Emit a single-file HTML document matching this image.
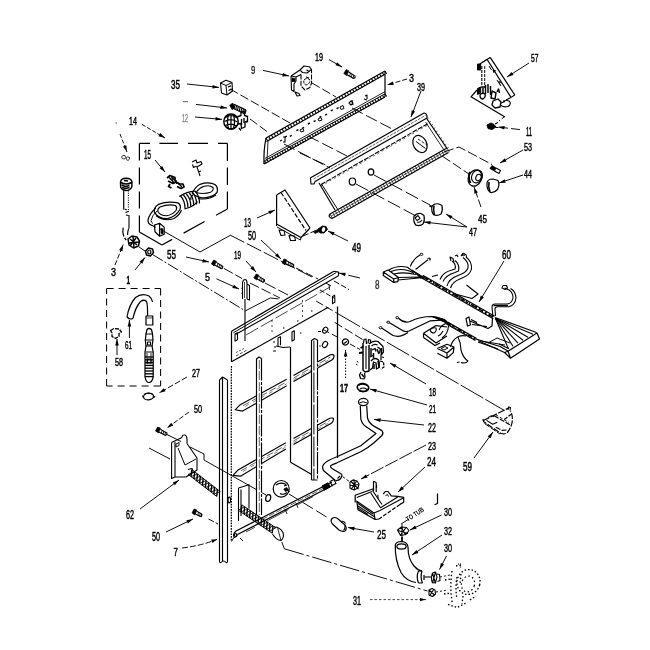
<!DOCTYPE html>
<html><head><meta charset="utf-8"><title>Parts diagram</title>
<style>html,body{margin:0;padding:0;background:#fff;width:650px;height:650px;overflow:hidden;font-family:"Liberation Sans",sans-serif}</style></head>
<body>
<svg width="650" height="650" viewBox="0 0 650 650" style="display:block;filter:grayscale(1)" font-family="Liberation Sans, sans-serif" fill="#000" stroke-linecap="butt" stroke-linejoin="round">
<text x="171" y="89" stroke="#000" stroke-width="0.45" font-size="12.0" textLength="9" lengthAdjust="spacingAndGlyphs" font-weight="normal">35</text>
<text x="251" y="73.5" stroke="#000" stroke-width="0.45" font-size="10.7" textLength="4.300000000000011" lengthAdjust="spacingAndGlyphs" font-weight="normal" opacity="0.85">9</text>
<text x="315" y="60.5" stroke="#000" stroke-width="0.45" font-size="11.3" textLength="8" lengthAdjust="spacingAndGlyphs" font-weight="normal">19</text>
<text x="409" y="81.5" stroke="#000" stroke-width="0.45" font-size="11.3" textLength="5" lengthAdjust="spacingAndGlyphs" font-weight="normal">3</text>
<text x="417" y="90.5" stroke="#000" stroke-width="0.45" font-size="11.3" textLength="8" lengthAdjust="spacingAndGlyphs" font-weight="normal">39</text>
<text x="531" y="61.5" stroke="#000" stroke-width="0.45" font-size="11.3" textLength="7.5" lengthAdjust="spacingAndGlyphs" font-weight="normal">57</text>
<text x="526" y="136" stroke="#000" stroke-width="0.45" font-size="12.0" textLength="6" lengthAdjust="spacingAndGlyphs" font-weight="normal">11</text>
<text x="524" y="150.5" stroke="#000" stroke-width="0.45" font-size="11.3" textLength="8" lengthAdjust="spacingAndGlyphs" font-weight="normal">53</text>
<text x="524" y="177.5" stroke="#000" stroke-width="0.45" font-size="11.3" textLength="8" lengthAdjust="spacingAndGlyphs" font-weight="normal">44</text>
<text x="478" y="222.5" stroke="#000" stroke-width="0.45" font-size="11.3" textLength="9" lengthAdjust="spacingAndGlyphs" font-weight="normal">45</text>
<text x="469" y="235.5" stroke="#000" stroke-width="0.45" font-size="11.3" textLength="8" lengthAdjust="spacingAndGlyphs" font-weight="normal">47</text>
<text x="352" y="252" stroke="#000" stroke-width="0.45" font-size="12.0" textLength="9" lengthAdjust="spacingAndGlyphs" font-weight="normal">49</text>
<text x="502" y="259" stroke="#000" stroke-width="0.45" font-size="12.0" textLength="9" lengthAdjust="spacingAndGlyphs" font-weight="normal">60</text>
<text x="129" y="124.5" stroke="#000" stroke-width="0.45" font-size="11.3" textLength="8" lengthAdjust="spacingAndGlyphs" font-weight="normal">14</text>
<text x="144" y="159" stroke="#000" stroke-width="0.45" font-size="12.0" textLength="7" lengthAdjust="spacingAndGlyphs" font-weight="normal">15</text>
<text x="182" y="121.5" stroke="#000" stroke-width="0.45" font-size="10.0" textLength="6" lengthAdjust="spacingAndGlyphs" font-weight="normal" opacity="0.45">12</text>
<text x="167" y="259" stroke="#000" stroke-width="0.45" font-size="12.0" textLength="9" lengthAdjust="spacingAndGlyphs" font-weight="normal">55</text>
<text x="244" y="227" stroke="#000" stroke-width="0.45" font-size="12.0" textLength="7" lengthAdjust="spacingAndGlyphs" font-weight="normal">13</text>
<text x="248" y="240" stroke="#000" stroke-width="0.45" font-size="12.0" textLength="8" lengthAdjust="spacingAndGlyphs" font-weight="normal">50</text>
<text x="234" y="258.5" stroke="#000" stroke-width="0.45" font-size="11.3" textLength="7" lengthAdjust="spacingAndGlyphs" font-weight="normal">19</text>
<text x="205" y="280.5" stroke="#000" stroke-width="0.45" font-size="11.3" textLength="5" lengthAdjust="spacingAndGlyphs" font-weight="normal">5</text>
<text x="126.5" y="283.5" stroke="#000" stroke-width="0.45" font-size="11.3" textLength="3.5" lengthAdjust="spacingAndGlyphs" font-weight="bold">1</text>
<text x="111" y="275.5" stroke="#000" stroke-width="0.45" font-size="11.3" textLength="5" lengthAdjust="spacingAndGlyphs" font-weight="normal">3</text>
<text x="125" y="348.8" stroke="#000" stroke-width="0.45" font-size="11.3" textLength="7" lengthAdjust="spacingAndGlyphs" font-weight="normal">61</text>
<text x="115" y="365.5" stroke="#000" stroke-width="0.45" font-size="11.3" textLength="8" lengthAdjust="spacingAndGlyphs" font-weight="normal">58</text>
<text x="192" y="376.5" stroke="#000" stroke-width="0.45" font-size="11.3" textLength="8" lengthAdjust="spacingAndGlyphs" font-weight="normal">27</text>
<text x="194" y="412.5" stroke="#000" stroke-width="0.45" font-size="11.3" textLength="8" lengthAdjust="spacingAndGlyphs" font-weight="normal">50</text>
<text x="126" y="519" stroke="#000" stroke-width="0.45" font-size="12.0" textLength="8" lengthAdjust="spacingAndGlyphs" font-weight="normal">62</text>
<text x="152" y="541" stroke="#000" stroke-width="0.45" font-size="12.0" textLength="8" lengthAdjust="spacingAndGlyphs" font-weight="normal">50</text>
<text x="173.6" y="555.7" stroke="#000" stroke-width="0.45" font-size="11.3" textLength="4.400000000000006" lengthAdjust="spacingAndGlyphs" font-weight="normal">7</text>
<text x="375" y="288.5" stroke="#000" stroke-width="0.45" font-size="12.0" textLength="4.5" lengthAdjust="spacingAndGlyphs" font-weight="normal" opacity="0.8">8</text>
<text x="340" y="391.5" stroke="#000" stroke-width="0.45" font-size="10.0" textLength="8" lengthAdjust="spacingAndGlyphs" font-weight="bold">17</text>
<text x="429" y="395.5" stroke="#000" stroke-width="0.45" font-size="11.3" textLength="7" lengthAdjust="spacingAndGlyphs" font-weight="normal">18</text>
<text x="429" y="412.5" stroke="#000" stroke-width="0.45" font-size="11.3" textLength="7" lengthAdjust="spacingAndGlyphs" font-weight="normal">21</text>
<text x="428" y="432" stroke="#000" stroke-width="0.45" font-size="12.0" textLength="8" lengthAdjust="spacingAndGlyphs" font-weight="normal">22</text>
<text x="428" y="449.5" stroke="#000" stroke-width="0.45" font-size="11.3" textLength="8" lengthAdjust="spacingAndGlyphs" font-weight="normal">23</text>
<text x="427" y="466" stroke="#000" stroke-width="0.45" font-size="12.0" textLength="9" lengthAdjust="spacingAndGlyphs" font-weight="normal">24</text>
<text x="463" y="471" stroke="#000" stroke-width="0.45" font-size="12.0" textLength="9" lengthAdjust="spacingAndGlyphs" font-weight="normal">59</text>
<text x="377" y="539" stroke="#000" stroke-width="0.45" font-size="12.0" textLength="9" lengthAdjust="spacingAndGlyphs" font-weight="normal">25</text>
<text x="444" y="516.3" stroke="#000" stroke-width="0.45" font-size="11.3" textLength="8" lengthAdjust="spacingAndGlyphs" font-weight="normal">30</text>
<text x="444" y="534.5" stroke="#000" stroke-width="0.45" font-size="11.3" textLength="8" lengthAdjust="spacingAndGlyphs" font-weight="normal">32</text>
<text x="444" y="551.6" stroke="#000" stroke-width="0.45" font-size="11.5" textLength="8" lengthAdjust="spacingAndGlyphs" font-weight="normal">30</text>
<text x="353" y="605" stroke="#000" stroke-width="0.45" font-size="12.0" textLength="8" lengthAdjust="spacingAndGlyphs" font-weight="normal">31</text>
<text x="407.8" y="521.8" font-size="7" font-weight="bold" textLength="20" lengthAdjust="spacingAndGlyphs" transform="rotate(-33 407.8 521.8)">TO TUB</text>
<path d="M187.0,84.0 L219.0,87.4" fill="none" stroke="#000" stroke-width="0.95"/>
<path d="M219.0,87.4 L212.3,88.5 L212.7,84.9 Z" fill="#000"/>
<path d="M183.0,101.6 L188.0,101.6" fill="none" stroke="#000" stroke-width="1.22" opacity="0.5"/>
<path d="M196.0,104.4 L227.0,108.0" fill="none" stroke="#000" stroke-width="0.95"/>
<path d="M227.0,108.0 L220.3,109.0 L220.8,105.5 Z" fill="#000"/>
<path d="M195.0,117.0 L222.0,119.4" fill="none" stroke="#000" stroke-width="0.95"/>
<path d="M222.0,119.4 L215.4,120.6 L215.7,117.0 Z" fill="#000"/>
<path d="M142.0,124.4 L165.0,138.0" fill="none" stroke="#000" stroke-width="0.95" stroke-dasharray="4 2"/>
<path d="M165.0,138.0 L158.5,136.2 L160.3,133.1 Z" fill="#000"/>
<path d="M115.5,123.0 L117.0,123.0" fill="none" stroke="#000" stroke-width="1.22" opacity="0.6"/>
<path d="M120.0,134.0 L127.0,152.0" fill="none" stroke="#000" stroke-width="0.95" stroke-dasharray="4 2"/>
<path d="M127.0,152.0 L123.0,146.6 L126.3,145.3 Z" fill="#000"/>
<path d="M155.0,160.0 L165.0,172.0" fill="none" stroke="#000" stroke-width="0.95"/>
<path d="M165.0,172.0 L159.5,168.2 L162.2,165.9 Z" fill="#000"/>
<path d="M263.0,70.4 L289.0,76.0" fill="none" stroke="#000" stroke-width="0.95"/>
<path d="M289.0,76.0 L282.3,76.4 L283.0,72.9 Z" fill="#000"/>
<path d="M329.0,59.6 L342.0,67.0" fill="none" stroke="#000" stroke-width="0.95"/>
<path d="M342.0,67.0 L335.5,65.3 L337.2,62.2 Z" fill="#000"/>
<path d="M407.0,79.0 L387.0,85.0" fill="none" stroke="#000" stroke-width="0.95" stroke-dasharray="5 2"/>
<path d="M387.0,85.0 L392.7,81.4 L393.7,84.9 Z" fill="#000"/>
<path d="M421.0,91.0 L411.0,117.0" fill="none" stroke="#000" stroke-width="0.95"/>
<path d="M411.0,117.0 L411.7,110.3 L415.0,111.6 Z" fill="#000"/>
<path d="M529.0,63.0 L507.0,77.0" fill="none" stroke="#000" stroke-width="0.95"/>
<path d="M507.0,77.0 L511.5,72.0 L513.5,75.0 Z" fill="#000"/>
<path d="M520.0,129.6 L498.0,127.0" fill="none" stroke="#000" stroke-width="0.95" stroke-dasharray="9 3"/>
<path d="M498.0,127.0 L504.7,126.0 L504.2,129.6 Z" fill="#000"/>
<path d="M523.0,150.0 L500.0,163.0" fill="none" stroke="#000" stroke-width="0.95"/>
<path d="M500.0,163.0 L504.8,158.2 L506.5,161.4 Z" fill="#000"/>
<path d="M523.0,175.0 L499.0,183.0" fill="none" stroke="#000" stroke-width="0.95"/>
<path d="M499.0,183.0 L504.6,179.2 L505.7,182.7 Z" fill="#000"/>
<path d="M481.0,207.0 L474.0,187.0" fill="none" stroke="#000" stroke-width="0.95" stroke-dasharray="8 2"/>
<path d="M474.0,187.0 L477.8,192.5 L474.4,193.7 Z" fill="#000"/>
<path d="M467.0,227.0 L446.0,214.0" fill="none" stroke="#000" stroke-width="0.95"/>
<path d="M446.0,214.0 L452.5,215.9 L450.6,219.0 Z" fill="#000"/>
<path d="M467.0,227.0 L424.0,222.0" fill="none" stroke="#000" stroke-width="0.95"/>
<path d="M424.0,222.0 L430.7,221.0 L430.2,224.5 Z" fill="#000"/>
<path d="M348.0,241.0 L328.0,231.0" fill="none" stroke="#000" stroke-width="0.95"/>
<path d="M328.0,231.0 L334.6,232.3 L333.0,235.5 Z" fill="#000"/>
<path d="M504.0,261.0 L479.0,302.0" fill="none" stroke="#000" stroke-width="0.95"/>
<path d="M479.0,302.0 L480.8,295.5 L483.9,297.4 Z" fill="#000"/>
<path d="M186.0,257.0 L209.0,262.0" fill="none" stroke="#000" stroke-width="0.95"/>
<path d="M209.0,262.0 L202.3,262.4 L203.0,258.9 Z" fill="#000"/>
<path d="M257.0,218.0 L275.0,210.0" fill="none" stroke="#000" stroke-width="0.95"/>
<path d="M275.0,210.0 L269.8,214.3 L268.3,211.0 Z" fill="#000"/>
<path d="M261.0,240.0 L281.0,259.0" fill="none" stroke="#000" stroke-width="0.95"/>
<path d="M281.0,259.0 L275.0,255.8 L277.5,253.2 Z" fill="#000"/>
<path d="M246.0,261.0 L256.0,272.0" fill="none" stroke="#000" stroke-width="0.95"/>
<path d="M256.0,272.0 L250.3,268.4 L253.0,266.0 Z" fill="#000"/>
<path d="M216.5,278.8 L239.0,289.0" fill="none" stroke="#000" stroke-width="0.95"/>
<path d="M239.0,289.0 L232.3,288.0 L233.8,284.7 Z" fill="#000"/>
<path d="M115.0,265.0 L123.2,244.5" fill="none" stroke="#000" stroke-width="0.95" stroke-dasharray="5 2"/>
<path d="M123.2,244.5 L122.5,251.2 L119.1,249.9 Z" fill="#000"/>
<path d="M135.0,270.0 L145.0,257.5" fill="none" stroke="#000" stroke-width="0.95"/>
<path d="M145.0,257.5 L142.3,263.7 L139.5,261.5 Z" fill="#000"/>
<path d="M129.4,338.0 L129.4,320.0" fill="none" stroke="#000" stroke-width="0.95"/>
<path d="M129.4,320.0 L131.2,326.5 L127.6,326.5 Z" fill="#000"/>
<path d="M117.0,355.0 L117.0,339.0" fill="none" stroke="#000" stroke-width="0.95"/>
<path d="M117.0,339.0 L118.8,345.5 L115.2,345.5 Z" fill="#000"/>
<path d="M187.0,377.0 L159.0,393.0" fill="none" stroke="#000" stroke-width="0.95" stroke-dasharray="6 2"/>
<path d="M159.0,393.0 L163.8,388.2 L165.5,391.3 Z" fill="#000"/>
<path d="M189.0,412.0 L167.0,428.0" fill="none" stroke="#000" stroke-width="0.95" stroke-dasharray="5 2"/>
<path d="M167.0,428.0 L171.2,422.7 L173.3,425.6 Z" fill="#000"/>
<path d="M140.0,509.0 L179.0,480.0" fill="none" stroke="#000" stroke-width="0.95"/>
<path d="M179.0,480.0 L174.9,485.3 L172.7,482.4 Z" fill="#000"/>
<path d="M166.0,532.0 L193.0,519.0" fill="none" stroke="#000" stroke-width="0.95"/>
<path d="M193.0,519.0 L187.9,523.4 L186.4,520.2 Z" fill="#000"/>
<path d="M182,548 Q200,546 217,539.4" fill="none" stroke="#000" stroke-width="0.95" stroke-dasharray="6 2"/>
<path d="M217.0,539.4 L212.4,543.0 L211.2,539.4 Z" fill="#000"/>
<path d="M360.0,278.0 L339.0,273.0" fill="none" stroke="#000" stroke-width="0.95" stroke-dasharray="12 3"/>
<path d="M339.0,273.0 L345.7,272.8 L344.9,276.3 Z" fill="#000"/>
<path d="M345.6,378.0 L345.6,350.0" fill="none" stroke="#000" stroke-width="0.95" stroke-dasharray="1.5 1.5"/>
<path d="M345.6,350.0 L347.4,356.5 L343.8,356.5 Z" fill="#000"/>
<path d="M426.0,384.0 L390.0,363.0" fill="none" stroke="#000" stroke-width="0.95"/>
<path d="M390.0,363.0 L396.5,364.7 L394.7,367.8 Z" fill="#000"/>
<path d="M427.0,405.0 L370.0,389.0" fill="none" stroke="#000" stroke-width="0.95"/>
<path d="M370.0,389.0 L376.7,389.0 L375.8,392.5 Z" fill="#000"/>
<path d="M424.0,425.0 L374.0,419.4" fill="none" stroke="#000" stroke-width="0.95"/>
<path d="M374.0,419.4 L380.7,418.3 L380.3,421.9 Z" fill="#000"/>
<path d="M426.0,445.0 L361.0,479.0" fill="none" stroke="#000" stroke-width="0.95" stroke-dasharray="14 2"/>
<path d="M361.0,479.0 L365.9,474.4 L367.6,477.6 Z" fill="#000"/>
<path d="M425.0,467.0 L398.0,492.0" fill="none" stroke="#000" stroke-width="0.95"/>
<path d="M398.0,492.0 L401.5,486.3 L404.0,488.9 Z" fill="#000"/>
<path d="M474.0,458.0 L493.0,432.0" fill="none" stroke="#000" stroke-width="0.95"/>
<path d="M493.0,432.0 L490.6,438.3 L487.7,436.2 Z" fill="#000"/>
<path d="M374.0,532.0 L348.0,527.5" fill="none" stroke="#000" stroke-width="0.95"/>
<path d="M348.0,527.5 L354.7,526.8 L354.1,530.4 Z" fill="#000"/>
<path d="M441.5,515.0 L410.0,530.0" fill="none" stroke="#000" stroke-width="0.95"/>
<path d="M410.0,530.0 L415.1,525.6 L416.6,528.8 Z" fill="#000"/>
<path d="M442.0,535.0 L412.0,555.0" fill="none" stroke="#000" stroke-width="0.95"/>
<path d="M412.0,555.0 L416.4,549.9 L418.4,552.9 Z" fill="#000"/>
<path d="M446.5,556.0 L439.5,569.5" fill="none" stroke="#000" stroke-width="0.95"/>
<path d="M439.5,569.5 L440.9,562.9 L444.1,564.6 Z" fill="#000"/>
<path d="M370.0,599.6 L426.0,599.6" fill="none" stroke="#000" stroke-width="0.73" stroke-dasharray="2.5 2"/>
<path d="M426.0,599.6 L420.0,601.2 L420.0,598.0 Z" fill="#000"/>
<path d="M230.0,89.0 L290.0,123.0" fill="none" stroke="#000" stroke-width="0.95" stroke-dasharray="9 3"/>
<path d="M312.0,83.0 L336.0,97.0" fill="none" stroke="#000" stroke-width="0.95" stroke-dasharray="9 3"/>
<path d="M250.0,119.0 L269.0,133.0" fill="none" stroke="#000" stroke-width="0.95" stroke-dasharray="9 3"/>
<path d="M284.0,144.0 L330.0,168.0" fill="none" stroke="#000" stroke-width="0.95" stroke-dasharray="12 4"/>
<path d="M308.0,136.0 L347.0,156.0" fill="none" stroke="#000" stroke-width="0.95" stroke-dasharray="12 4"/>
<path d="M352.0,108.0 L394.0,130.0" fill="none" stroke="#000" stroke-width="0.95" stroke-dasharray="12 4"/>
<path d="M300.0,153.0 L330.0,167.0" fill="none" stroke="#000" stroke-width="0.95" stroke-dasharray="12 4"/>
<path d="M374.0,175.0 L430.0,205.0" fill="none" stroke="#000" stroke-width="0.95" stroke-dasharray="14 4"/>
<path d="M356.0,184.0 L416.0,216.0" fill="none" stroke="#000" stroke-width="0.95" stroke-dasharray="14 4"/>
<path d="M444.0,152.0 L459.0,147.0 L492.0,164.5" fill="none" stroke="#000" stroke-width="0.95" stroke-dasharray="10 3"/>
<path d="M442.0,156.0 L469.0,174.0" fill="none" stroke="#000" stroke-width="0.95" stroke-dasharray="10 3"/>
<path d="M504.0,117.0 L499.0,121.0" fill="none" stroke="#000" stroke-width="0.95" stroke-dasharray="3 2"/>
<path d="M303.0,236.0 L317.0,230.0" fill="none" stroke="#000" stroke-width="0.95" stroke-dasharray="6 2"/>
<path d="M160.0,229.0 L200.0,252.0 L230.0,235.5" fill="none" stroke="#000" stroke-width="0.95"/>
<path d="M230.0,235.0 L312.0,277.0" fill="none" stroke="#000" stroke-width="0.95" stroke-dasharray="16 3"/>
<path d="M139.0,247.0 L145.0,251.0" fill="none" stroke="#000" stroke-width="0.95"/>
<path d="M152.5,254.5 L245.3,310.9" fill="none" stroke="#000" stroke-width="0.95" stroke-dasharray="12 2 2 2"/>
<path d="M245.3,310.9 L270.2,298.0 L278.5,298.9" fill="none" stroke="#000" stroke-width="0.95"/>
<path d="M224.0,268.5 L242.0,278.5" fill="none" stroke="#000" stroke-width="0.95" stroke-dasharray="10 3"/>
<path d="M250.0,283.0 L280.0,298.0" fill="none" stroke="#000" stroke-width="0.95" stroke-dasharray="10 3"/>
<path d="M265.0,283.0 L288.0,295.0" fill="none" stroke="#000" stroke-width="0.95" stroke-dasharray="12 3"/>
<path d="M296.0,268.0 L318.0,279.0" fill="none" stroke="#000" stroke-width="0.95" stroke-dasharray="8 3"/>
<path d="M316.2,301.1 L337.5,313.5" fill="none" stroke="#000" stroke-width="0.95" stroke-dasharray="8 3"/>
<path d="M337.5,313.5 L504.5,410.5" fill="none" stroke="#000" stroke-width="0.95" stroke-dasharray="26 2.5"/>
<path d="M334.6,322.3 L362.5,339.5" fill="none" stroke="#000" stroke-width="0.95" stroke-dasharray="9 3"/>
<path d="M323.0,329.5 L341.0,339.0" fill="none" stroke="#000" stroke-width="0.95" stroke-dasharray="7 3"/>
<path d="M350.0,344.0 L360.0,349.5" fill="none" stroke="#000" stroke-width="0.95" stroke-dasharray="6 2"/>
<path d="M149.0,448.0 L170.0,459.0" fill="none" stroke="#000" stroke-width="0.95"/>
<path d="M190.0,447.0 L204.0,454.0 L204.0,460.0 L266.0,495.0" fill="none" stroke="#000" stroke-width="0.95"/>
<path d="M208.5,519.0 L218.0,524.0" fill="none" stroke="#000" stroke-width="0.95" stroke-dasharray="6 2"/>
<path d="M281.8,542.0 L284.4,548.8" fill="none" stroke="#000" stroke-width="0.95"/>
<path d="M284.4,548.8 L427.5,591.0" fill="none" stroke="#000" stroke-width="0.95" stroke-dasharray="20 3 3 3"/>
<path d="M289.0,494.0 L329.0,518.5" fill="none" stroke="#000" stroke-width="0.95" stroke-dasharray="12 4"/>
<path d="M401.0,524.0 L409.0,519.0" fill="none" stroke="#000" stroke-width="0.95"/>
<path d="M402.0,524.0 L402.0,542.0" fill="none" stroke="#000" stroke-width="0.95"/>
<path d="M437.5,493.5 L437.5,503.5 L434.5,504.8" fill="none" stroke="#000" stroke-width="1.22"/>
<path d="M440.0,577.0 L450.0,575.0" fill="none" stroke="#000" stroke-width="0.95" stroke-dasharray="2 2"/>
<path d="M436.0,592.0 L448.0,590.0" fill="none" stroke="#000" stroke-width="0.95" stroke-dasharray="2 2"/>
<path d="M266.0,138.0 L385.0,71.0" fill="none" stroke="#000" stroke-width="1.22"/>
<path d="M266.5,141.4 L385.0,74.2" fill="none" stroke="#000" stroke-width="1.10"/>
<path d="M266.0,138.0 L267.6,140.8" fill="none" stroke="#000" stroke-width="1.10"/>
<path d="M268.7,136.5 L270.3,139.3" fill="none" stroke="#000" stroke-width="1.10"/>
<path d="M271.4,135.0 L273.0,137.7" fill="none" stroke="#000" stroke-width="1.10"/>
<path d="M274.1,133.4 L275.7,136.2" fill="none" stroke="#000" stroke-width="1.10"/>
<path d="M276.8,131.9 L278.4,134.7" fill="none" stroke="#000" stroke-width="1.10"/>
<path d="M279.5,130.4 L281.1,133.2" fill="none" stroke="#000" stroke-width="1.10"/>
<path d="M282.2,128.9 L283.8,131.7" fill="none" stroke="#000" stroke-width="1.10"/>
<path d="M284.9,127.3 L286.5,130.1" fill="none" stroke="#000" stroke-width="1.10"/>
<path d="M287.6,125.8 L289.2,128.6" fill="none" stroke="#000" stroke-width="1.10"/>
<path d="M290.3,124.3 L291.9,127.1" fill="none" stroke="#000" stroke-width="1.10"/>
<path d="M293.0,122.8 L294.6,125.6" fill="none" stroke="#000" stroke-width="1.10"/>
<path d="M295.8,121.2 L297.3,124.0" fill="none" stroke="#000" stroke-width="1.10"/>
<path d="M298.5,119.7 L300.0,122.5" fill="none" stroke="#000" stroke-width="1.10"/>
<path d="M301.2,118.2 L302.7,121.0" fill="none" stroke="#000" stroke-width="1.10"/>
<path d="M303.9,116.7 L305.4,119.5" fill="none" stroke="#000" stroke-width="1.10"/>
<path d="M306.6,115.2 L308.1,117.9" fill="none" stroke="#000" stroke-width="1.10"/>
<path d="M309.3,113.6 L310.8,116.4" fill="none" stroke="#000" stroke-width="1.10"/>
<path d="M312.0,112.1 L313.5,114.9" fill="none" stroke="#000" stroke-width="1.10"/>
<path d="M314.7,110.6 L316.3,113.4" fill="none" stroke="#000" stroke-width="1.10"/>
<path d="M317.4,109.1 L319.0,111.9" fill="none" stroke="#000" stroke-width="1.10"/>
<path d="M320.1,107.5 L321.7,110.3" fill="none" stroke="#000" stroke-width="1.10"/>
<path d="M322.8,106.0 L324.4,108.8" fill="none" stroke="#000" stroke-width="1.10"/>
<path d="M325.5,104.5 L327.1,107.3" fill="none" stroke="#000" stroke-width="1.10"/>
<path d="M328.2,103.0 L329.8,105.8" fill="none" stroke="#000" stroke-width="1.10"/>
<path d="M330.9,101.5 L332.5,104.2" fill="none" stroke="#000" stroke-width="1.10"/>
<path d="M333.6,99.9 L335.2,102.7" fill="none" stroke="#000" stroke-width="1.10"/>
<path d="M336.3,98.4 L337.9,101.2" fill="none" stroke="#000" stroke-width="1.10"/>
<path d="M339.0,96.9 L340.6,99.7" fill="none" stroke="#000" stroke-width="1.10"/>
<path d="M341.7,95.4 L343.3,98.2" fill="none" stroke="#000" stroke-width="1.10"/>
<path d="M344.4,93.8 L346.0,96.6" fill="none" stroke="#000" stroke-width="1.10"/>
<path d="M347.1,92.3 L348.7,95.1" fill="none" stroke="#000" stroke-width="1.10"/>
<path d="M349.8,90.8 L351.4,93.6" fill="none" stroke="#000" stroke-width="1.10"/>
<path d="M352.5,89.3 L354.1,92.1" fill="none" stroke="#000" stroke-width="1.10"/>
<path d="M355.2,87.8 L356.8,90.5" fill="none" stroke="#000" stroke-width="1.10"/>
<path d="M358.0,86.2 L359.5,89.0" fill="none" stroke="#000" stroke-width="1.10"/>
<path d="M360.7,84.7 L362.2,87.5" fill="none" stroke="#000" stroke-width="1.10"/>
<path d="M363.4,83.2 L364.9,86.0" fill="none" stroke="#000" stroke-width="1.10"/>
<path d="M366.1,81.7 L367.6,84.4" fill="none" stroke="#000" stroke-width="1.10"/>
<path d="M368.8,80.1 L370.3,82.9" fill="none" stroke="#000" stroke-width="1.10"/>
<path d="M371.5,78.6 L373.0,81.4" fill="none" stroke="#000" stroke-width="1.10"/>
<path d="M374.2,77.1 L375.8,79.9" fill="none" stroke="#000" stroke-width="1.10"/>
<path d="M376.9,75.6 L378.5,78.4" fill="none" stroke="#000" stroke-width="1.10"/>
<path d="M379.6,74.0 L381.2,76.8" fill="none" stroke="#000" stroke-width="1.10"/>
<path d="M382.3,72.5 L383.9,75.3" fill="none" stroke="#000" stroke-width="1.10"/>
<path d="M385.0,71.0 L386.6,73.8" fill="none" stroke="#000" stroke-width="1.10"/>
<path d="M266,138 Q263.5,150 264,164" fill="none" stroke="#000" stroke-width="1.22"/>
<path d="M385.0,71.0 L385.0,97.0" fill="none" stroke="#000" stroke-width="1.22"/>
<path d="M268.0,141.0 L267.0,161.0" fill="none" stroke="#000" stroke-width="0.85"/>
<path d="M264.0,164.0 L385.0,97.0" fill="none" stroke="#000" stroke-width="1.22"/>
<path d="M264.5,160.8 L385.0,93.8" fill="none" stroke="#000" stroke-width="0.98"/>
<path d="M265.0,158.5 L385.0,91.6" fill="none" stroke="#000" stroke-width="0.85"/>
<path d="M264.5,160.8 L266.1,163.6" fill="none" stroke="#000" stroke-width="1.10"/>
<path d="M267.0,159.4 L268.6,162.2" fill="none" stroke="#000" stroke-width="1.10"/>
<path d="M269.5,158.0 L271.1,160.8" fill="none" stroke="#000" stroke-width="1.10"/>
<path d="M272.0,156.6 L273.6,159.4" fill="none" stroke="#000" stroke-width="1.10"/>
<path d="M274.5,155.2 L276.1,158.0" fill="none" stroke="#000" stroke-width="1.10"/>
<path d="M277.1,153.8 L278.6,156.6" fill="none" stroke="#000" stroke-width="1.10"/>
<path d="M279.6,152.4 L281.1,155.2" fill="none" stroke="#000" stroke-width="1.10"/>
<path d="M282.1,151.0 L283.6,153.8" fill="none" stroke="#000" stroke-width="1.10"/>
<path d="M284.6,149.6 L286.1,152.4" fill="none" stroke="#000" stroke-width="1.10"/>
<path d="M287.1,148.2 L288.6,151.0" fill="none" stroke="#000" stroke-width="1.10"/>
<path d="M289.6,146.8 L291.2,149.6" fill="none" stroke="#000" stroke-width="1.10"/>
<path d="M292.1,145.4 L293.7,148.2" fill="none" stroke="#000" stroke-width="1.10"/>
<path d="M294.6,144.1 L296.2,146.8" fill="none" stroke="#000" stroke-width="1.10"/>
<path d="M297.1,142.7 L298.7,145.5" fill="none" stroke="#000" stroke-width="1.10"/>
<path d="M299.6,141.3 L301.2,144.1" fill="none" stroke="#000" stroke-width="1.10"/>
<path d="M302.2,139.9 L303.7,142.7" fill="none" stroke="#000" stroke-width="1.10"/>
<path d="M304.7,138.5 L306.2,141.3" fill="none" stroke="#000" stroke-width="1.10"/>
<path d="M307.2,137.1 L308.7,139.9" fill="none" stroke="#000" stroke-width="1.10"/>
<path d="M309.7,135.7 L311.2,138.5" fill="none" stroke="#000" stroke-width="1.10"/>
<path d="M312.2,134.3 L313.8,137.1" fill="none" stroke="#000" stroke-width="1.10"/>
<path d="M314.7,132.9 L316.3,135.7" fill="none" stroke="#000" stroke-width="1.10"/>
<path d="M317.2,131.5 L318.8,134.3" fill="none" stroke="#000" stroke-width="1.10"/>
<path d="M319.7,130.1 L321.3,132.9" fill="none" stroke="#000" stroke-width="1.10"/>
<path d="M322.2,128.7 L323.8,131.5" fill="none" stroke="#000" stroke-width="1.10"/>
<path d="M324.8,127.3 L326.3,130.1" fill="none" stroke="#000" stroke-width="1.10"/>
<path d="M327.3,125.9 L328.8,128.7" fill="none" stroke="#000" stroke-width="1.10"/>
<path d="M329.8,124.5 L331.3,127.3" fill="none" stroke="#000" stroke-width="1.10"/>
<path d="M332.3,123.1 L333.8,125.9" fill="none" stroke="#000" stroke-width="1.10"/>
<path d="M334.8,121.7 L336.3,124.5" fill="none" stroke="#000" stroke-width="1.10"/>
<path d="M337.3,120.3 L338.9,123.1" fill="none" stroke="#000" stroke-width="1.10"/>
<path d="M339.8,118.9 L341.4,121.7" fill="none" stroke="#000" stroke-width="1.10"/>
<path d="M342.3,117.5 L343.9,120.3" fill="none" stroke="#000" stroke-width="1.10"/>
<path d="M344.8,116.1 L346.4,118.9" fill="none" stroke="#000" stroke-width="1.10"/>
<path d="M347.3,114.7 L348.9,117.5" fill="none" stroke="#000" stroke-width="1.10"/>
<path d="M349.9,113.3 L351.4,116.1" fill="none" stroke="#000" stroke-width="1.10"/>
<path d="M352.4,111.9 L353.9,114.7" fill="none" stroke="#000" stroke-width="1.10"/>
<path d="M354.9,110.5 L356.4,113.3" fill="none" stroke="#000" stroke-width="1.10"/>
<path d="M357.4,109.2 L358.9,112.0" fill="none" stroke="#000" stroke-width="1.10"/>
<path d="M359.9,107.8 L361.5,110.6" fill="none" stroke="#000" stroke-width="1.10"/>
<path d="M362.4,106.4 L364.0,109.2" fill="none" stroke="#000" stroke-width="1.10"/>
<path d="M364.9,105.0 L366.5,107.8" fill="none" stroke="#000" stroke-width="1.10"/>
<path d="M367.4,103.6 L369.0,106.4" fill="none" stroke="#000" stroke-width="1.10"/>
<path d="M369.9,102.2 L371.5,105.0" fill="none" stroke="#000" stroke-width="1.10"/>
<path d="M372.4,100.8 L374.0,103.6" fill="none" stroke="#000" stroke-width="1.10"/>
<path d="M375.0,99.4 L376.5,102.2" fill="none" stroke="#000" stroke-width="1.10"/>
<path d="M377.5,98.0 L379.0,100.8" fill="none" stroke="#000" stroke-width="1.10"/>
<path d="M380.0,96.6 L381.5,99.4" fill="none" stroke="#000" stroke-width="1.10"/>
<path d="M382.5,95.2 L384.0,98.0" fill="none" stroke="#000" stroke-width="1.10"/>
<path d="M385.0,93.8 L386.6,96.6" fill="none" stroke="#000" stroke-width="1.10"/>
<path d="M284.9,137.2 L286.9,136.2" fill="none" stroke="#000" stroke-width="1.46"/>
<path d="M289.8,136.4 L291.8,135.4" fill="none" stroke="#000" stroke-width="1.46"/>
<path d="M296.4,130.6 L298.4,129.6" fill="none" stroke="#000" stroke-width="1.46"/>
<path d="M302.1,128.3 L304.1,127.3" fill="none" stroke="#000" stroke-width="1.46"/>
<path d="M307.9,124.0 L309.9,123.0" fill="none" stroke="#000" stroke-width="1.46"/>
<path d="M313.6,121.7 L315.6,120.7" fill="none" stroke="#000" stroke-width="1.46"/>
<path d="M319.4,117.4 L321.4,116.4" fill="none" stroke="#000" stroke-width="1.46"/>
<path d="M325.1,115.2 L327.1,114.2" fill="none" stroke="#000" stroke-width="1.46"/>
<path d="M330.8,110.9 L332.8,109.9" fill="none" stroke="#000" stroke-width="1.46"/>
<path d="M336.6,108.6 L338.6,107.6" fill="none" stroke="#000" stroke-width="1.46"/>
<path d="M283,137 l2,0 l0,5 l-2,0 M282,140 l-2,1" fill="none" stroke="#000" stroke-width="1.10"/>
<path d="M300,130 l3,-1.5 l1,2.5 l-3,1 z" fill="none" stroke="#000" stroke-width="0.98"/>
<path d="M318,119 l3,-1.5 l1,2.5 l-3,1 z" fill="none" stroke="#000" stroke-width="0.98"/>
<path d="M340,107 l3,-1.5 l1,3 l-3,1 z" fill="none" stroke="#000" stroke-width="0.98"/>
<path d="M349,103 l2,-2 l2,2 l-2,2 z M352,100 l1,5" fill="none" stroke="#000" stroke-width="1.10"/>
<path d="M365,96 l2,-1 l0,4 M364,99 l3,1" fill="none" stroke="#000" stroke-width="1.10"/>
<path d="M312.0,177.0 L424.0,113.0" fill="none" stroke="#000" stroke-width="1.22"/>
<path d="M315.0,181.5 L427.0,118.0" fill="none" stroke="#000" stroke-width="1.22"/>
<path d="M312,177 L310.5,178 L311,184 L314,184 L315,181.5" fill="none" stroke="#000" stroke-width="1.10"/>
<path d="M424,113 Q427.5,113.5 427,118" fill="none" stroke="#000" stroke-width="1.22"/>
<path d="M313.5,179.0 L425.5,115.4" fill="none" stroke="#000" stroke-width="0.61" stroke-dasharray="3 1"/>
<path d="M321.0,184.5 L428.0,123.5" fill="none" stroke="#000" stroke-width="1.10" stroke-dasharray="5 1.2"/>
<path d="M321.0,186.0 L428.0,125.0" fill="none" stroke="#000" stroke-width="0.61" stroke-dasharray="2 3"/>
<path d="M427.0,119.0 L447.0,148.5" fill="none" stroke="#000" stroke-width="1.22"/>
<path d="M425.5,122.0 L444.0,150.0" fill="none" stroke="#000" stroke-width="0.85"/>
<path d="M427.0,119.0 L428.7,117.9" fill="none" stroke="#000" stroke-width="0.61"/>
<path d="M429.2,122.3 L430.9,121.2" fill="none" stroke="#000" stroke-width="0.61"/>
<path d="M431.4,125.6 L433.1,124.4" fill="none" stroke="#000" stroke-width="0.61"/>
<path d="M433.7,128.8 L435.3,127.7" fill="none" stroke="#000" stroke-width="0.61"/>
<path d="M435.9,132.1 L437.5,131.0" fill="none" stroke="#000" stroke-width="0.61"/>
<path d="M438.1,135.4 L439.8,134.3" fill="none" stroke="#000" stroke-width="0.61"/>
<path d="M440.3,138.7 L442.0,137.5" fill="none" stroke="#000" stroke-width="0.61"/>
<path d="M442.6,141.9 L444.2,140.8" fill="none" stroke="#000" stroke-width="0.61"/>
<path d="M444.8,145.2 L446.4,144.1" fill="none" stroke="#000" stroke-width="0.61"/>
<path d="M447.0,148.5 L448.7,147.4" fill="none" stroke="#000" stroke-width="0.61"/>
<path d="M319.0,183.0 L335.0,210.0" fill="none" stroke="#000" stroke-width="1.22"/>
<path d="M321.5,184.0 L337.5,209.0" fill="none" stroke="#000" stroke-width="0.98"/>
<path d="M330.0,214.0 L447.0,148.0" fill="none" stroke="#000" stroke-width="1.22"/>
<path d="M332.0,218.5 L448.5,152.5" fill="none" stroke="#000" stroke-width="1.22"/>
<path d="M330,214 Q327.5,217 332,218.5" fill="none" stroke="#000" stroke-width="1.22"/>
<path d="M330.0,214.0 L332.4,218.2" fill="none" stroke="#000" stroke-width="0.73"/>
<path d="M332.7,212.5 L335.0,216.7" fill="none" stroke="#000" stroke-width="0.73"/>
<path d="M335.3,211.0 L337.7,215.2" fill="none" stroke="#000" stroke-width="0.73"/>
<path d="M338.0,209.5 L340.3,213.7" fill="none" stroke="#000" stroke-width="0.73"/>
<path d="M340.6,208.0 L343.0,212.2" fill="none" stroke="#000" stroke-width="0.73"/>
<path d="M343.3,206.5 L345.7,210.7" fill="none" stroke="#000" stroke-width="0.73"/>
<path d="M346.0,205.0 L348.3,209.2" fill="none" stroke="#000" stroke-width="0.73"/>
<path d="M348.6,203.5 L351.0,207.7" fill="none" stroke="#000" stroke-width="0.73"/>
<path d="M351.3,202.0 L353.6,206.2" fill="none" stroke="#000" stroke-width="0.73"/>
<path d="M353.9,200.5 L356.3,204.7" fill="none" stroke="#000" stroke-width="0.73"/>
<path d="M356.6,199.0 L358.9,203.2" fill="none" stroke="#000" stroke-width="0.73"/>
<path d="M359.2,197.5 L361.6,201.7" fill="none" stroke="#000" stroke-width="0.73"/>
<path d="M361.9,196.0 L364.3,200.2" fill="none" stroke="#000" stroke-width="0.73"/>
<path d="M364.6,194.5 L366.9,198.7" fill="none" stroke="#000" stroke-width="0.73"/>
<path d="M367.2,193.0 L369.6,197.2" fill="none" stroke="#000" stroke-width="0.73"/>
<path d="M369.9,191.5 L372.2,195.7" fill="none" stroke="#000" stroke-width="0.73"/>
<path d="M372.5,190.0 L374.9,194.2" fill="none" stroke="#000" stroke-width="0.73"/>
<path d="M375.2,188.5 L377.6,192.7" fill="none" stroke="#000" stroke-width="0.73"/>
<path d="M377.9,187.0 L380.2,191.2" fill="none" stroke="#000" stroke-width="0.73"/>
<path d="M380.5,185.5 L382.9,189.7" fill="none" stroke="#000" stroke-width="0.73"/>
<path d="M383.2,184.0 L385.5,188.2" fill="none" stroke="#000" stroke-width="0.73"/>
<path d="M385.8,182.5 L388.2,186.7" fill="none" stroke="#000" stroke-width="0.73"/>
<path d="M388.5,181.0 L390.9,185.2" fill="none" stroke="#000" stroke-width="0.73"/>
<path d="M391.2,179.5 L393.5,183.7" fill="none" stroke="#000" stroke-width="0.73"/>
<path d="M393.8,178.0 L396.2,182.2" fill="none" stroke="#000" stroke-width="0.73"/>
<path d="M396.5,176.5 L398.8,180.7" fill="none" stroke="#000" stroke-width="0.73"/>
<path d="M399.1,175.0 L401.5,179.2" fill="none" stroke="#000" stroke-width="0.73"/>
<path d="M401.8,173.5 L404.2,177.7" fill="none" stroke="#000" stroke-width="0.73"/>
<path d="M404.5,172.0 L406.8,176.2" fill="none" stroke="#000" stroke-width="0.73"/>
<path d="M407.1,170.5 L409.5,174.7" fill="none" stroke="#000" stroke-width="0.73"/>
<path d="M409.8,169.0 L412.1,173.2" fill="none" stroke="#000" stroke-width="0.73"/>
<path d="M412.4,167.5 L414.8,171.7" fill="none" stroke="#000" stroke-width="0.73"/>
<path d="M415.1,166.0 L417.4,170.2" fill="none" stroke="#000" stroke-width="0.73"/>
<path d="M417.8,164.5 L420.1,168.7" fill="none" stroke="#000" stroke-width="0.73"/>
<path d="M420.4,163.0 L422.8,167.2" fill="none" stroke="#000" stroke-width="0.73"/>
<path d="M423.1,161.5 L425.4,165.7" fill="none" stroke="#000" stroke-width="0.73"/>
<path d="M425.7,160.0 L428.1,164.2" fill="none" stroke="#000" stroke-width="0.73"/>
<path d="M428.4,158.5 L430.7,162.7" fill="none" stroke="#000" stroke-width="0.73"/>
<path d="M431.0,157.0 L433.4,161.2" fill="none" stroke="#000" stroke-width="0.73"/>
<path d="M433.7,155.5 L436.1,159.7" fill="none" stroke="#000" stroke-width="0.73"/>
<path d="M436.4,154.0 L438.7,158.2" fill="none" stroke="#000" stroke-width="0.73"/>
<path d="M439.0,152.5 L441.4,156.7" fill="none" stroke="#000" stroke-width="0.73"/>
<path d="M441.7,151.0 L444.0,155.2" fill="none" stroke="#000" stroke-width="0.73"/>
<path d="M444.3,149.5 L446.7,153.7" fill="none" stroke="#000" stroke-width="0.73"/>
<path d="M447.0,148.0 L449.4,152.2" fill="none" stroke="#000" stroke-width="0.73"/>
<path d="M331.0,216.2 L447.5,150.2" fill="none" stroke="#000" stroke-width="0.61"/>
<ellipse cx="420" cy="144" rx="6.6" ry="9" fill="none" stroke="#000" stroke-width="1.22" transform="rotate(-28 420 144)"/>
<path d="M416.0,141.5 L425.5,148.5" fill="none" stroke="#000" stroke-width="0.98"/>
<path d="M418.0,139.0 L427.0,145.0" fill="none" stroke="#000" stroke-width="0.85" stroke-dasharray="3 1.5"/>
<ellipse cx="371" cy="172" rx="2.8" ry="3.2" fill="none" stroke="#000" stroke-width="1.22"/>
<ellipse cx="352.4" cy="181.6" rx="3.2" ry="3.6" fill="none" stroke="#000" stroke-width="1.22"/>
<path d="M231.5,331.2 L333.9,271.2" fill="none" stroke="#000" stroke-width="1.22"/>
<path d="M233.3,332.8 L336.2,272.6" fill="none" stroke="#000" stroke-width="0.98"/>
<path d="M235.5,334.6 L338.5,275.8" fill="none" stroke="#000" stroke-width="1.10"/>
<path d="M246.0,335.0 L330.0,287.0" fill="none" stroke="#000" stroke-width="0.73" stroke-dasharray="14 3"/>
<path d="M333.9,271.2 L338.5,272.1 L338.5,275.8" fill="none" stroke="#000" stroke-width="1.10"/>
<path d="M231.5,331.2 L231.5,362" fill="none" stroke="#000" stroke-width="1.22"/>
<path d="M231.5,361.8 L328.3,307.2" fill="none" stroke="#000" stroke-width="1.22"/>
<path d="M236.0,356.0 L248.0,349.5" fill="none" stroke="#000" stroke-width="0.73" stroke-dasharray="3 1.5"/>
<path d="M236.0,352.5 L244.0,348.5" fill="none" stroke="#000" stroke-width="0.73" stroke-dasharray="2 1.5"/>
<path d="M235,334 l2.5,-1.3 l0,7 l-2.5,1.3 z" fill="none" stroke="#000" stroke-width="1.10"/>
<path d="M231.5,366.0 L231.3,371.0 L231.3,541.0" fill="none" stroke="#000" stroke-width="1.22" stroke-dasharray="1.7 1"/>
<path d="M337.5,306.5 L337.5,458.0" fill="none" stroke="#000" stroke-width="1.28"/>
<path d="M320.0,290.0 L334.0,298.0" fill="none" stroke="#000" stroke-width="0.98" stroke-dasharray="5 2"/>
<path d="M334.0,281.0 L349.0,289.5" fill="none" stroke="#000" stroke-width="0.98" stroke-dasharray="6 2"/>
<path d="M332.5,296.5 l2.2,-1.3 l0.2,7 l-2.4,1.4 z" fill="none" stroke="#000" stroke-width="1.10"/>
<path d="M326.0,283.0 L331.0,286.0" fill="none" stroke="#000" stroke-width="0.98"/>
<path d="M329,284.5 l0.5,5.5" fill="none" stroke="#000" stroke-width="0.85"/>
<ellipse cx="325.2" cy="330.2" rx="2.3" ry="3.2" fill="none" stroke="#000" stroke-width="1.10" transform="rotate(35 325.2 330.2)"/>
<path d="M318.0,331.5 L321.0,331.5" fill="none" stroke="#000" stroke-width="0.98"/>
<ellipse cx="325" cy="344.5" rx="2.3" ry="3.2" fill="none" stroke="#000" stroke-width="1.10" transform="rotate(35 325 344.5)"/>
<path d="M319.5,346.0 L320.5,346.0" fill="none" stroke="#000" stroke-width="1.46"/>
<path d="M302.5,300.0 L302.5,318.0" fill="none" stroke="#000" stroke-width="0.73" stroke-dasharray="2 3"/>
<path d="M272.0,320.0 L272.0,334.0" fill="none" stroke="#000" stroke-width="0.73" stroke-dasharray="2 3"/>
<path d="M297.0,321.0 L298.5,321.0" fill="none" stroke="#000" stroke-width="1.22"/>
<path d="M283.0,328.0 L284.5,328.0" fill="none" stroke="#000" stroke-width="1.22"/>
<path d="M300.0,333.0 L301.5,333.0" fill="none" stroke="#000" stroke-width="1.22"/>
<path d="M311.0,311.0 L312.5,311.0" fill="none" stroke="#000" stroke-width="1.22"/>
<path d="M290.5,347.0 L290.5,462.3" fill="none" stroke="#000" stroke-width="1.22"/>
<path d="M290.5,462.3 L311.3,474.2" fill="none" stroke="#000" stroke-width="1.22"/>
<path d="M276.0,346.0 L283.0,347.5 L290.0,347.0" fill="none" stroke="#000" stroke-width="1.10"/>
<path d="M278,346 l0,-8 l2.5,-1.3 l0,8.5" fill="none" stroke="#000" stroke-width="1.10"/>
<path d="M292,341 l0,-9 l2.3,-1.2 l0,9 z" fill="none" stroke="#000" stroke-width="1.10"/>
<path d="M273,342 l2,0 M274,347 l2,0 M273,351 l3,0" fill="none" stroke="#000" stroke-width="0.98"/>
<path d="M286.7,379.3 L240.2,404.7 L235.1,409.8 L242.7,411.09999999999997 L286.7,385.7" fill="none" stroke="#000" stroke-width="1.16"/>
<path d="M243.2,405.6 L286.7,381.9" fill="none" stroke="#000" stroke-width="0.61" stroke-dasharray="7 3"/>
<path d="M245.2,406.4 L286.7,383.8" fill="none" stroke="#000" stroke-width="0.49" stroke-dasharray="4 5"/>
<path d="M285.8,442.8 L238,470 L233,475.3 L240.5,476.2 L285.8,449.0" fill="none" stroke="#000" stroke-width="1.16"/>
<path d="M241.0,470.8 L285.8,445.3" fill="none" stroke="#000" stroke-width="0.61" stroke-dasharray="7 3"/>
<path d="M243.0,471.5 L285.8,447.1" fill="none" stroke="#000" stroke-width="0.49" stroke-dasharray="4 5"/>
<path d="M293.5,375.6 L330.3,354.8 Q334.8,354.2 334,356.4 Q334,358.4 331.8,359.9521739130435 L293.5,381.6" fill="none" stroke="#000" stroke-width="1.16"/>
<path d="M293.5,378.0 L330.3,357.2" fill="none" stroke="#000" stroke-width="0.61" stroke-dasharray="7 3"/>
<path d="M293.5,379.8 L329.3,359.6" fill="none" stroke="#000" stroke-width="0.49" stroke-dasharray="4 5"/>
<path d="M293.5,438.5 L329.8,418.2 Q334.2,417.40000000000003 333.4,419.6 Q333.4,421.6 331.3,423.3611570247934 L293.5,444.5" fill="none" stroke="#000" stroke-width="1.16"/>
<path d="M293.5,440.9 L329.8,420.6" fill="none" stroke="#000" stroke-width="0.61" stroke-dasharray="7 3"/>
<path d="M293.5,442.7 L328.8,423.0" fill="none" stroke="#000" stroke-width="0.49" stroke-dasharray="4 5"/>
<path d="M256.5,515 L256.5,359 L259.0,357 L261.5,358.5 L261.5,515 Z" fill="#fff" stroke="none"/>
<path d="M256.5,515 L256.5,359 L259.0,357 L261.5,358.5" fill="none" stroke="#000" stroke-width="1.16"/>
<path d="M261.5,358.5 L261.5,515.0" fill="none" stroke="#000" stroke-width="1.16" stroke-dasharray="22 1.5 3 1.5"/>
<path d="M259.3,360.0 L259.3,515.0" fill="none" stroke="#000" stroke-width="0.61" stroke-dasharray="9 2"/>
<path d="M311.5,480 L311.5,340.5 L314.5,338.5 L317.5,340.0 L317.5,480 Z" fill="#fff" stroke="none"/>
<path d="M311.5,480 L311.5,340.5 L314.5,338.5 L317.5,340.0" fill="none" stroke="#000" stroke-width="1.16"/>
<path d="M317.5,340.0 L317.5,480.0" fill="none" stroke="#000" stroke-width="1.16" stroke-dasharray="22 1.5 3 1.5"/>
<path d="M313.9,340.5 L313.9,480.0" fill="none" stroke="#000" stroke-width="0.98" stroke-dasharray="30 2"/>
<path d="M311.5,480.0 L317.5,480.0" fill="none" stroke="#000" stroke-width="0.98"/>
<path d="M236.0,531.0 L332.0,482.0" fill="none" stroke="#000" stroke-width="1.22"/>
<path d="M237.5,534.5 L333.0,485.3" fill="none" stroke="#000" stroke-width="1.22"/>
<path d="M262.0,519.5 L326.0,487.0" fill="none" stroke="#000" stroke-width="0.61" stroke-dasharray="6 2"/>
<path d="M246.0,532.0 L318.0,494.0" fill="none" stroke="#000" stroke-width="0.73" stroke-dasharray="10 14 24 10 18 40"/>
<path d="M236,531 Q232.5,534 234,537.5 Q236,538 237.5,534.5" fill="none" stroke="#000" stroke-width="1.10"/>
<ellipse cx="235.6" cy="535" rx="1.2" ry="1.5" fill="none" stroke="#000" stroke-width="1.22"/>
<path d="M240.0,538.0 L243.0,541.0" fill="none" stroke="#000" stroke-width="0.98"/>
<path d="M285.0,509.0 L287.0,514.0" fill="none" stroke="#000" stroke-width="0.85"/>
<path d="M296.0,503.0 L298.0,508.0" fill="none" stroke="#000" stroke-width="0.85"/>
<path d="M322,486 l6,-3.2 l2.3,4 l-6,3.3 z" fill="#000" stroke="#000" stroke-width="0.98"/>
<path d="M330,481.5 l4,-2 l2,4 l-4,2 z" fill="none" stroke="#000" stroke-width="1.10"/>
<ellipse cx="281.2" cy="488.8" rx="8" ry="8.3" fill="none" stroke="#000" stroke-width="1.22"/>
<path d="M276,485 Q280.5,481.5 286,484.5 M285,489.5 L289.5,491.5 M280,493.5 Q284,495.5 287,492.5 M284,486 l3,-1" fill="none" stroke="#000" stroke-width="1.10"/>
<path d="M283.8,489 l3,-1.5 l1.5,2.5 l-2.8,1.6 z" fill="#000" stroke="#000" stroke-width="0.73"/>
<ellipse cx="268.2" cy="498" rx="2.4" ry="3.5" fill="none" stroke="#000" stroke-width="1.22" transform="rotate(15 268.2 498)"/>
<path d="M238.5,488 L249,484.8 L249,508.5 M238.5,488 L238.5,521 M241,489.5 L241,516" fill="none" stroke="#000" stroke-width="1.10"/>
<path d="M231.5,541.5 L233.5,538.0" fill="none" stroke="#000" stroke-width="0.98"/>
<path d="M219.5,380.0 L219.5,561.0" fill="none" stroke="#000" stroke-width="1.16"/>
<path d="M222.5,377.5 L222.5,561.0" fill="none" stroke="#000" stroke-width="1.16"/>
<path d="M227.5,380.0 L227.5,561.0" fill="none" stroke="#000" stroke-width="1.16"/>
<path d="M219.5,380 L222.5,377 L227.5,380" fill="none" stroke="#000" stroke-width="1.10"/>
<path d="M219.5,561 Q219.5,563 221,562.5 Q223.5,559.5 226,562.5 Q227.5,563 227.5,561" fill="none" stroke="#000" stroke-width="1.10"/>
<ellipse cx="229.3" cy="500" rx="1.3" ry="2.8" fill="none" stroke="#000" stroke-width="1.22"/>
<path d="M188.2,474.4 L216.7,496.4" fill="none" stroke="#000" stroke-width="0.98"/>
<path d="M191.8,469.6 L220.3,491.6" fill="none" stroke="#000" stroke-width="0.98"/>
<path d="M191.8,469.6 L191.0,476.6" fill="none" stroke="#000" stroke-width="1.40"/>
<path d="M188.2,474.4 L194.7,471.8" fill="none" stroke="#000" stroke-width="0.85"/>
<path d="M194.7,471.8 L193.9,478.8" fill="none" stroke="#000" stroke-width="1.40"/>
<path d="M191.0,476.6 L197.5,474.0" fill="none" stroke="#000" stroke-width="0.85"/>
<path d="M197.5,474.0 L196.7,481.0" fill="none" stroke="#000" stroke-width="1.40"/>
<path d="M193.9,478.8 L200.4,476.2" fill="none" stroke="#000" stroke-width="0.85"/>
<path d="M200.4,476.2 L199.6,483.2" fill="none" stroke="#000" stroke-width="1.40"/>
<path d="M196.7,481.0 L203.2,478.4" fill="none" stroke="#000" stroke-width="0.85"/>
<path d="M203.2,478.4 L202.4,485.4" fill="none" stroke="#000" stroke-width="1.40"/>
<path d="M199.6,483.2 L206.1,480.6" fill="none" stroke="#000" stroke-width="0.85"/>
<path d="M206.1,480.6 L205.3,487.6" fill="none" stroke="#000" stroke-width="1.40"/>
<path d="M202.4,485.4 L208.9,482.8" fill="none" stroke="#000" stroke-width="0.85"/>
<path d="M208.9,482.8 L208.1,489.8" fill="none" stroke="#000" stroke-width="1.40"/>
<path d="M205.3,487.6 L211.8,485.0" fill="none" stroke="#000" stroke-width="0.85"/>
<path d="M211.8,485.0 L211.0,492.0" fill="none" stroke="#000" stroke-width="1.40"/>
<path d="M208.1,489.8 L214.6,487.2" fill="none" stroke="#000" stroke-width="0.85"/>
<path d="M214.6,487.2 L213.8,494.2" fill="none" stroke="#000" stroke-width="1.40"/>
<path d="M211.0,492.0 L217.5,489.4" fill="none" stroke="#000" stroke-width="0.85"/>
<path d="M217.5,489.4 L216.7,496.4" fill="none" stroke="#000" stroke-width="1.40"/>
<path d="M213.8,494.2 L220.3,491.6" fill="none" stroke="#000" stroke-width="0.85"/>
<path d="M188,469.5 l4,-1 l1,3" fill="none" stroke="#000" stroke-width="1.10"/>
<path d="M238.2,510.2 L272.2,533.2" fill="none" stroke="#000" stroke-width="0.98"/>
<path d="M241.8,504.8 L275.8,527.8" fill="none" stroke="#000" stroke-width="0.98"/>
<path d="M241.8,504.8 L241.0,512.1" fill="none" stroke="#000" stroke-width="1.40"/>
<path d="M238.2,510.2 L244.6,506.8" fill="none" stroke="#000" stroke-width="0.85"/>
<path d="M244.6,506.8 L243.9,514.0" fill="none" stroke="#000" stroke-width="1.40"/>
<path d="M241.0,512.1 L247.5,508.7" fill="none" stroke="#000" stroke-width="0.85"/>
<path d="M247.5,508.7 L246.7,515.9" fill="none" stroke="#000" stroke-width="1.40"/>
<path d="M243.9,514.0 L250.3,510.6" fill="none" stroke="#000" stroke-width="0.85"/>
<path d="M250.3,510.6 L249.5,517.8" fill="none" stroke="#000" stroke-width="1.40"/>
<path d="M246.7,515.9 L253.1,512.5" fill="none" stroke="#000" stroke-width="0.85"/>
<path d="M253.1,512.5 L252.4,519.7" fill="none" stroke="#000" stroke-width="1.40"/>
<path d="M249.5,517.8 L256.0,514.4" fill="none" stroke="#000" stroke-width="0.85"/>
<path d="M256.0,514.4 L255.2,521.7" fill="none" stroke="#000" stroke-width="1.40"/>
<path d="M252.4,519.7 L258.8,516.3" fill="none" stroke="#000" stroke-width="0.85"/>
<path d="M258.8,516.3 L258.0,523.6" fill="none" stroke="#000" stroke-width="1.40"/>
<path d="M255.2,521.7 L261.6,518.3" fill="none" stroke="#000" stroke-width="0.85"/>
<path d="M261.6,518.3 L260.9,525.5" fill="none" stroke="#000" stroke-width="1.40"/>
<path d="M258.0,523.6 L264.5,520.2" fill="none" stroke="#000" stroke-width="0.85"/>
<path d="M264.5,520.2 L263.7,527.4" fill="none" stroke="#000" stroke-width="1.40"/>
<path d="M260.9,525.5 L267.3,522.1" fill="none" stroke="#000" stroke-width="0.85"/>
<path d="M267.3,522.1 L266.5,529.3" fill="none" stroke="#000" stroke-width="1.40"/>
<path d="M263.7,527.4 L270.1,524.0" fill="none" stroke="#000" stroke-width="0.85"/>
<path d="M270.1,524.0 L269.4,531.2" fill="none" stroke="#000" stroke-width="1.40"/>
<path d="M266.5,529.3 L273.0,525.9" fill="none" stroke="#000" stroke-width="0.85"/>
<path d="M273.0,525.9 L272.2,533.2" fill="none" stroke="#000" stroke-width="1.40"/>
<path d="M269.4,531.2 L275.8,527.8" fill="none" stroke="#000" stroke-width="0.85"/>
<path d="M274,527 Q280,527 283,532.5 Q284.5,538 281,540.5 Q276.5,540.5 272.5,534" fill="none" stroke="#000" stroke-width="1.10"/>
<path d="M277.5,527.5 L281.0,540.5" fill="none" stroke="#000" stroke-width="0.85"/>
<path d="M171.6,442.5 L171.6,478.5 L175,477 L175,442 M171.6,442.5 L182,437.5 M175,477 L186,477 L197,470 L197,458 L187,443.5" fill="none" stroke="#000" stroke-width="1.10"/>
<path d="M182,437.5 Q182,434.5 185,435 Q187.5,436 187,443.5" fill="none" stroke="#000" stroke-width="1.10"/>
<path d="M178,448 L185,465 L196,459" fill="none" stroke="#000" stroke-width="0.98"/>
<path d="M176,444 l3,-1.5 l0,3 l-3,1.5 z" fill="none" stroke="#000" stroke-width="0.98"/>
<path d="M490.2,57.4 L514.8,95.0" fill="none" stroke="#000" stroke-width="1.22"/>
<path d="M487.0,59.2 L511.0,97.4" fill="none" stroke="#000" stroke-width="1.22"/>
<path d="M490.2,57.4 L479.8,64.0" fill="none" stroke="#000" stroke-width="1.22"/>
<path d="M487.0,59.2 L482.0,62.5" fill="none" stroke="#000" stroke-width="0.98"/>
<path d="M514.8,95.0 L511.0,97.4 L506.0,100.0" fill="none" stroke="#000" stroke-width="1.10"/>
<path d="M489,66 l2.5,4 M494,73 l-1,-3 l3,1 M497,80 l4,6 M500,84.5 l-1.3,-3 l3,1.3" fill="none" stroke="#000" stroke-width="0.98"/>
<path d="M477.5,64 l3.2,0 l0,6 l-3.2,0 z" fill="#000" stroke="#000" stroke-width="0.98"/>
<path d="M481.8,66.0 L481.8,88.0" fill="none" stroke="#000" stroke-width="1.10" stroke-dasharray="3 1"/>
<path d="M484.7,66.0 L484.7,88.0" fill="none" stroke="#000" stroke-width="0.98" stroke-dasharray="3 1"/>
<path d="M477.5,88.5 l3.2,-1.5 l0,6 l-3.2,1.5 z" fill="#000" stroke="#000" stroke-width="0.98"/>
<path d="M477.0,90.0 L471.0,96.8 L505.0,117.0" fill="none" stroke="#000" stroke-width="1.22"/>
<path d="M483,86 l0,8 M485.5,85 l0,9 M488,84 l0,9 M490.5,86 l0,9" fill="none" stroke="#000" stroke-width="1.46"/>
<path d="M480,95 q2,-3 5,-1 q1,3 -2,5 q-3,0 -3,-4 z" fill="none" stroke="#000" stroke-width="1.34"/>
<path d="M492,91 l4,2 l-1,6 l-4,-1 z M497,92 l1.5,-3 l1,4" fill="none" stroke="#000" stroke-width="1.46"/>
<path d="M493,101 l5,-2 l3,3 l-1,5 l-5,1 l-3,-3 z" fill="none" stroke="#000" stroke-width="1.34"/>
<path d="M501,103 l4,-1.5 M503,101 q5,-1.5 7,1 q1,3 -2,4.5 q-4,1 -7,-1" fill="none" stroke="#000" stroke-width="1.10"/>
<path d="M487,125 l4,-2 l3,1.5 l2,2.5 l-4,2.5 l-4,-1 z" fill="#000" stroke="#000" stroke-width="0.98"/>
<path d="M495,124 l3,-1.5 M496,127.5 l2.5,0" fill="none" stroke="#000" stroke-width="1.10"/>
<path d="M291,76 L300,70 L304,66 L309.5,66.8 L311.5,69.5 L307,73 L302.5,72.5 L300,70" fill="none" stroke="#000" stroke-width="1.10"/>
<path d="M291,76 L291.5,90 L294,91.5 L294,84 L296,81 L296,77 M291,76 L296,77 L301,74.5" fill="none" stroke="#000" stroke-width="1.10"/>
<path d="M301,74.5 L301,86 L305,90 L310,87.5 L311.5,83 L311.5,69.5" fill="none" stroke="#000" stroke-width="1.10" stroke-dasharray="5 1.2"/>
<path d="M304,80 q3,-3 6,0 q0,4 -4,5 q-3,-1 -2,-5" fill="none" stroke="#000" stroke-width="0.98" stroke-dasharray="3 1"/>
<path d="M292,78 l3,0.5 l0,3 l-3,0 z" fill="#000" stroke="#000" stroke-width="0.73"/>
<path d="M295,92 l4,1.5 l1,2 l-3,0.5 z" fill="none" stroke="#000" stroke-width="1.10"/>
<path d="M306,77 l3,1 M306.5,70 l2,1" fill="none" stroke="#000" stroke-width="1.22"/>
<path d="M220.5,83 L226,80.2 L232,82.5 L232.5,91 L227,95 L221.5,93 Z" fill="none" stroke="#000" stroke-width="1.10"/>
<path d="M220.5,83 L226,85.5 L232,82.5 M226,85.5 L227,95" fill="none" stroke="#000" stroke-width="0.98"/>
<path d="M228,87 l3,-1.2 M228.5,90.5 l3.5,-1.5" fill="none" stroke="#000" stroke-width="1.34"/>
<path d="M230,105.5 l2.5,-2 l2.2,3.8 l-2.5,2 z" fill="#000" stroke="#000" stroke-width="1.10"/>
<path d="M233.5,104 L246,110 M232.5,108 L245,114 M246,110 L245,114" fill="none" stroke="#000" stroke-width="1.22"/>
<path d="M235.0,104.8 L234.1,108.6" fill="none" stroke="#000" stroke-width="1.10"/>
<path d="M236.7,105.6 L235.8,109.4" fill="none" stroke="#000" stroke-width="1.10"/>
<path d="M238.4,106.4 L237.5,110.2" fill="none" stroke="#000" stroke-width="1.10"/>
<path d="M240.1,107.3 L239.2,111.1" fill="none" stroke="#000" stroke-width="1.10"/>
<path d="M241.8,108.1 L240.9,111.9" fill="none" stroke="#000" stroke-width="1.10"/>
<path d="M243.5,108.9 L242.6,112.7" fill="none" stroke="#000" stroke-width="1.10"/>
<path d="M245.2,109.7 L244.3,113.5" fill="none" stroke="#000" stroke-width="1.10"/>
<ellipse cx="231" cy="121.5" rx="7.2" ry="7.6" fill="none" stroke="#000" stroke-width="1.46"/>
<path d="M225.5,117.5 q5.5,-4 11,0 M224.5,121.5 q6.5,-4 13,0.5 M225.5,125.5 q5.5,-3 11,0.5 M228.5,114.8 q-2,7 0,13.5 M233.5,114.8 q2,7 0,13.5 M231,114.5 l0,14" fill="none" stroke="#000" stroke-width="1.22"/>
<path d="M227,128 q4,2 8,0" fill="none" stroke="#000" stroke-width="1.46"/>
<path d="M237,117 l4,-1.5 l0,-3.5 l3,-0.5 l0.5,4 l3,1 l0,5 l-2.5,0.5 l0,5 l-3.5,1.5 l-0.5,-5 l-3,0.5" fill="none" stroke="#000" stroke-width="1.34"/>
<path d="M241.5,119 l0,6 M239,128 l2,2.5 M244,118 l0,5 M246,121.5 l2,0" fill="none" stroke="#000" stroke-width="1.34"/>
<path d="M276.6,195.0 L276.6,226.0" fill="none" stroke="#000" stroke-width="1.22"/>
<path d="M276.6,195.0 L285.0,190.0 L310.0,228.0" fill="none" stroke="#000" stroke-width="1.22"/>
<path d="M281.0,192.5 L306.0,230.5" fill="none" stroke="#000" stroke-width="1.22" stroke-dasharray="4.5 1.8"/>
<path d="M276.6,224.0 L301.0,237.5 L310.0,228.0" fill="none" stroke="#000" stroke-width="1.22"/>
<path d="M277.0,227.0 L300.5,240.0" fill="none" stroke="#000" stroke-width="0.98"/>
<path d="M301.0,237.5 L300.5,240.0" fill="none" stroke="#000" stroke-width="0.98"/>
<path d="M279,230 l5,0.5 l1,4.5 l-4,0.5 z M289,235.5 l5.5,0.5 l1,4.5 l-5,0 z" fill="none" stroke="#000" stroke-width="1.10"/>
<path d="M318,229 l4.5,-3 l3.5,0.5 l1.5,3 l-3.5,3.5 l-4,0 z" fill="#000" stroke="#000" stroke-width="0.85"/>
<path d="M313.5,231.8 l5,-2.8 l1,2.6 l-4.5,2 z" fill="#000" stroke="#000" stroke-width="0.61"/>
<ellipse cx="323.5" cy="229.5" rx="2.2" ry="3" fill="#fff" stroke="#000" stroke-width="0.98" transform="rotate(20 323.5 229.5)"/>
<ellipse cx="475" cy="178" rx="6.6" ry="8.4" fill="none" stroke="#000" stroke-width="1.22" transform="rotate(25 475 178)"/>
<ellipse cx="477" cy="176.5" rx="5.2" ry="6.6" fill="none" stroke="#000" stroke-width="1.10" transform="rotate(25 477 176.5)"/>
<ellipse cx="478.5" cy="177.5" rx="2.6" ry="3.2" fill="none" stroke="#000" stroke-width="1.10" transform="rotate(25 478.5 177.5)"/>
<path d="M470,172 q-2.5,5 0.5,11" fill="none" stroke="#000" stroke-width="1.95"/>
<path d="M487,183 q0.5,-4 6,-4 l5,1.5 q2,4 -0.5,9 q-3,3.5 -7,3 q-4,-2.5 -3.5,-9.5 z" fill="none" stroke="#000" stroke-width="1.22"/>
<path d="M489,182 q-1,5 1,10" fill="none" stroke="#000" stroke-width="1.59"/>
<path d="M492,165.5 l4,2.5 l-1.5,3 l-4.5,-2.5 z" fill="#000" stroke="#000" stroke-width="0.85"/>
<path d="M496,168 l4.5,2.5 l-1.5,3 l-4.5,-2.5" fill="none" stroke="#000" stroke-width="1.10"/>
<path d="M432,206 q3,-3 7,-2 l3,1.5 q1,5 -1,8.5 q-3,2 -7,1 q-3,-3 -2,-9 z" fill="none" stroke="#000" stroke-width="1.22"/>
<path d="M434,205.5 q-1,5 0.5,9.5" fill="none" stroke="#000" stroke-width="1.46"/>
<path d="M429.5,205.5 L432.0,207.0" fill="none" stroke="#000" stroke-width="1.59"/>
<path d="M414,216 q3,-3.5 7,-2.5 l3,2 q1,5 -1,8.5 q-3,2.5 -7,1.2 q-3,-3 -2,-9.2 z" fill="none" stroke="#000" stroke-width="1.22"/>
<path d="M415,218 l3,-2.5 l2,3 l-3,2 z M417,222 q3,1 5,-2" fill="none" stroke="#000" stroke-width="1.10"/>
<path d="M139.4,143.4 L227.4,143.4" fill="none" stroke="#000" stroke-width="1.22" stroke-dasharray="10.6 9.4 18.6 10 20 10 9.4 0"/>
<path d="M227.4,143.4 L227.4,209.0" fill="none" stroke="#000" stroke-width="1.22" stroke-dasharray="17.6 6.4"/>
<path d="M227.4,209.0 L162.0,245.0" fill="none" stroke="#000" stroke-width="1.22" stroke-dasharray="13 13 24 13 12"/>
<path d="M162.0,245.0 L139.4,232.0" fill="none" stroke="#000" stroke-width="1.22"/>
<path d="M139.4,143.4 L139.4,232.0" fill="none" stroke="#000" stroke-width="1.22" stroke-dasharray="17 7"/>
<path d="M167,178 l3,-2.5 l5,2 l0,3 M168,181 l5,2.5 l3,-1.5 l4,2 l3,0 l1,3 l-3,1.5 l-4,-2 M170,184 l-1.5,2.5 l3,1.5" fill="none" stroke="#000" stroke-width="1.71"/>
<path d="M169,177.5 l5,5 M171,176.5 l5,5 M175,181 l5,4 M178,183 l4,4" fill="none" stroke="#000" stroke-width="1.34"/>
<path d="M172,178 l1,5 M176,180 l0.5,4" fill="none" stroke="#000" stroke-width="1.10"/>
<path d="M192,162 l4,-2 l1,3 l4,-1.5 l1,2.5 l-5,3 l3,9 M196.5,166 l-3,1.5 l-1,-3 M198,172 l3,-1" fill="none" stroke="#000" stroke-width="1.10"/>
<path d="M192.3,193.3 Q195,187 200,184.3 Q209,181.3 215,184.5 Q218.5,187.5 217,192.5 Q213,197 205,197.8 Q198,198.5 192.3,193.3 Z" fill="none" stroke="#000" stroke-width="1.22"/>
<path d="M196,192.5 Q199,188 204,186.3 Q210,184.8 213,187.5 Q214,190.5 210.5,192.3 Q204,194.5 196,192.5 Z" fill="none" stroke="#000" stroke-width="1.10"/>
<path d="M198,198.5 Q208,200.5 216,195 M193,195 Q190,197 191,200" fill="none" stroke="#000" stroke-width="1.10"/>
<path d="M179.2,196.6 Q187,191.5 194.9,191.1 M184.4,209 Q193,207 197.5,201.6" fill="none" stroke="#000" stroke-width="1.22"/>
<path d="M180.5,196.0 q4.5,4.5 4.5,12.5" fill="none" stroke="#000" stroke-width="1.22"/>
<path d="M183.4,195.0 q4.5,4.5 4.5,12.5" fill="none" stroke="#000" stroke-width="1.22"/>
<path d="M186.3,194.0 q4.5,4.5 4.5,12.5" fill="none" stroke="#000" stroke-width="1.22"/>
<path d="M189.2,193.0 q4.5,4.5 4.5,12.5" fill="none" stroke="#000" stroke-width="1.22"/>
<path d="M192.1,192.0 q4.5,4.5 4.5,12.5" fill="none" stroke="#000" stroke-width="1.22"/>
<path d="M195.0,191.0 q4.5,4.5 4.5,12.5" fill="none" stroke="#000" stroke-width="1.22"/>
<path d="M158.3,204.4 Q168,200.6 177.9,202.9 Q181.5,205 180,209.5 Q176,216.5 167.5,218.6 Q159,219 154.4,212.3 Q153.5,207.5 158.3,204.4 Z" fill="none" stroke="#000" stroke-width="1.22"/>
<path d="M160,207 Q168,203.8 175.5,205.5 Q177.5,207.5 176,210.5 Q172.5,214.8 166.5,215.8 Q160.5,215.8 157.8,211.5 Q157.5,208.5 160,207 Z" fill="none" stroke="#000" stroke-width="1.10"/>
<path d="M156,215.5 Q164,222 174,218.5 Q179.5,215.5 181.5,210" fill="none" stroke="#000" stroke-width="1.10"/>
<path d="M155.7,208.1 Q149.5,213.5 148,220 Q147.8,224 151.8,225.3 L155.7,227.3" fill="none" stroke="#000" stroke-width="1.22"/>
<path d="M157,211 Q152,215.5 151,220.5 Q151,222.5 153,223.5" fill="none" stroke="#000" stroke-width="0.98"/>
<path d="M154.4,225.1 L159.6,223.2 L164.2,227.1 L164.2,234.3 L159.6,236.2 L155,231.7 Z M159.6,223.2 L159.6,236.2" fill="none" stroke="#000" stroke-width="1.22"/>
<path d="M161,228 l2,1 l0,5 l-2,-0.5 z" fill="#000" stroke="#000" stroke-width="0.61"/>
<path d="M120.5,182 Q121,178.5 126,178.3 Q131.5,178.5 132,182 L131.8,187 Q130,190.5 126,190.5 Q121.5,190 120.7,187 Z" fill="none" stroke="#000" stroke-width="1.46"/>
<path d="M121,182.5 Q126,185.5 131.8,182.5 M121.5,185 l4,1.5 l4,-1 M122,187.5 l3.5,1 l4,-1 M124,180.5 l4,0.5" fill="none" stroke="#000" stroke-width="1.46"/>
<path d="M123.7,190.5 L123.7,209.5" fill="none" stroke="#000" stroke-width="1.22"/>
<path d="M128.4,190.5 L128.4,212.0" fill="none" stroke="#000" stroke-width="1.10" stroke-dasharray="1 1.3"/>
<path d="M124.7,209 l2,1 M125.5,212.5 l3,-1 M126,215 l2.5,0.5" fill="none" stroke="#000" stroke-width="1.10"/>
<path d="M129.0,215.0 L129.0,228.5" fill="none" stroke="#000" stroke-width="1.10"/>
<path d="M128.6,228.5 Q127.5,232 127.6,235" fill="none" stroke="#000" stroke-width="1.10"/>
<path d="M123.2,227.7 Q121.5,235 126.2,240" fill="none" stroke="#000" stroke-width="1.22" stroke-dasharray="9 1.5"/>
<path d="M128,239 l4,-3 l5,1 l2.5,4 l-1,5 l-5,2 l-4.5,-3 z" fill="none" stroke="#000" stroke-width="1.46"/>
<path d="M130,239 l7,6 M136,238 l-6,8 M133,236.5 l1,11 M129,243 l10,-1" fill="none" stroke="#000" stroke-width="1.46"/>
<path d="M145.5,251 l3,-3 l4,1 l1,3.5 l-3,3.5 l-4,-1 z" fill="none" stroke="#000" stroke-width="1.46"/>
<ellipse cx="149.3" cy="252" rx="1.6" ry="2" fill="none" stroke="#000" stroke-width="1.22"/>
<path d="M121.5,157 q1,-2.5 3.5,-1.5 q1.5,2 -0.5,3.5 q-2.5,0.5 -3,-2 M126,158 q1.5,-2 3.5,-0.5 q0.5,2 -1.5,3 q-2,-0.5 -2,-2.5" fill="none" stroke="#000" stroke-width="0.98" opacity="0.8"/>
<path d="M213.6,260.1 L216.4,261.2 L214.2,266.0 L211.4,263.9 Z" fill="#000" stroke="#000" stroke-width="0.73"/>
<path d="M216.3,262.4 L222.7,266.3 L222.7,267.9 L221.3,268.7 L214.7,265.1" fill="none" stroke="#000" stroke-width="1.10"/>
<path d="M218.0,263.5 L217.1,266.4" fill="none" stroke="#000" stroke-width="0.85"/>
<path d="M219.7,264.5 L218.9,267.4" fill="none" stroke="#000" stroke-width="0.85"/>
<path d="M221.5,265.5 L220.6,268.4" fill="none" stroke="#000" stroke-width="0.85"/>
<path d="M256.1,274.1 L258.9,275.2 L256.7,280.0 L253.9,277.9 Z" fill="#000" stroke="#000" stroke-width="0.73"/>
<path d="M258.8,276.4 L264.4,279.8 L264.4,281.4 L263.0,282.2 L257.2,279.1" fill="none" stroke="#000" stroke-width="1.10"/>
<path d="M260.5,277.5 L259.6,280.4" fill="none" stroke="#000" stroke-width="0.85"/>
<path d="M262.2,278.5 L261.4,281.4" fill="none" stroke="#000" stroke-width="0.85"/>
<path d="M264.0,279.5 L263.1,282.4" fill="none" stroke="#000" stroke-width="0.85"/>
<path d="M283.9,259.0 L286.8,259.9 L285.1,264.8 L282.1,263.0 Z" fill="#000" stroke="#000" stroke-width="0.73"/>
<path d="M286.8,261.0 L293.6,264.4 L293.7,266.0 L292.4,266.9 L285.5,263.9" fill="none" stroke="#000" stroke-width="1.10"/>
<path d="M288.6,262.0 L288.0,265.0" fill="none" stroke="#000" stroke-width="0.85"/>
<path d="M290.4,262.8 L289.8,265.8" fill="none" stroke="#000" stroke-width="0.85"/>
<path d="M292.2,263.7 L291.6,266.7" fill="none" stroke="#000" stroke-width="0.85"/>
<path d="M346.2,69.6 L348.9,70.9 L346.6,75.6 L343.8,73.4 Z" fill="#000" stroke="#000" stroke-width="0.73"/>
<path d="M348.8,72.0 L355.1,76.1 L355.0,77.8 L353.6,78.5 L347.1,74.7" fill="none" stroke="#000" stroke-width="1.10"/>
<path d="M350.5,73.1 L349.5,76.1" fill="none" stroke="#000" stroke-width="0.85"/>
<path d="M352.2,74.2 L351.2,77.1" fill="none" stroke="#000" stroke-width="0.85"/>
<path d="M353.9,75.3 L352.9,78.2" fill="none" stroke="#000" stroke-width="0.85"/>
<path d="M157.5,427.1 L160.4,428.1 L158.4,432.9 L155.5,430.9 Z" fill="#000" stroke="#000" stroke-width="0.73"/>
<path d="M160.3,429.2 L166.9,432.9 L166.9,434.5 L165.6,435.4 L158.8,432.1" fill="none" stroke="#000" stroke-width="1.10"/>
<path d="M162.1,430.3 L161.3,433.2" fill="none" stroke="#000" stroke-width="0.85"/>
<path d="M163.8,431.2 L163.0,434.2" fill="none" stroke="#000" stroke-width="0.85"/>
<path d="M165.6,432.1 L164.8,435.1" fill="none" stroke="#000" stroke-width="0.85"/>
<path d="M167.0,434.5 L181.0,441.5" fill="none" stroke="#000" stroke-width="0.98"/>
<path d="M194.0,509.1 L196.9,510.1 L194.9,514.9 L192.0,512.9 Z" fill="#000" stroke="#000" stroke-width="0.73"/>
<path d="M196.8,511.2 L201.6,514.0 L201.7,515.6 L200.3,516.5 L195.3,514.1" fill="none" stroke="#000" stroke-width="1.10"/>
<path d="M198.6,512.3 L197.8,515.2" fill="none" stroke="#000" stroke-width="0.85"/>
<path d="M200.3,513.2 L199.5,516.2" fill="none" stroke="#000" stroke-width="0.85"/>
<path d="M202.1,514.1 L201.3,517.1" fill="none" stroke="#000" stroke-width="0.85"/>
<path d="M242.5,299 L242.5,283 Q243,279.5 245,279.5 Q247,279.5 247,283 L247,299 M247,284 L249.5,285.5 L249.5,300 L247,299" fill="none" stroke="#000" stroke-width="1.10"/>
<path d="M244.5,282.0 L244.5,298.0" fill="none" stroke="#000" stroke-width="0.73"/>
<path d="M242.5,288 l-1,0.5 M242.5,293 l-1,0.5" fill="none" stroke="#000" stroke-width="1.10"/>
<path d="M245.0,299.0 L245.0,341.0" fill="none" stroke="#000" stroke-width="1.10"/>
<path d="M106.6,288.4 L160.6,288.4" fill="none" stroke="#000" stroke-width="1.04" stroke-dasharray="7 5"/>
<path d="M160.6,288.4 L160.6,386.0" fill="none" stroke="#000" stroke-width="1.04" stroke-dasharray="7 4.5"/>
<path d="M160.6,386.0 L106.6,386.0" fill="none" stroke="#000" stroke-width="1.04" stroke-dasharray="7 5"/>
<path d="M106.6,386.0 L106.6,288.4" fill="none" stroke="#000" stroke-width="1.04" stroke-dasharray="7 4.5"/>
<path d="M127,317 Q129,305 135.5,297.5 Q142,292.5 149,296 Q152,298.5 152.6,302" fill="none" stroke="#000" stroke-width="1.22"/>
<path d="M133,318.5 Q135,308 140.5,301.5 Q144,299 146.5,301.5 Q147.6,303 147.6,316" fill="none" stroke="#000" stroke-width="1.22"/>
<path d="M127,317 Q129.5,320 133,318.5" fill="none" stroke="#000" stroke-width="1.22"/>
<path d="M146,316 L152.8,316 L152.8,325 L146,325 Z" fill="none" stroke="#000" stroke-width="1.22"/>
<path d="M146.5,318.0 L152.3,318.0" fill="none" stroke="#000" stroke-width="0.73"/>
<path d="M147,329.5 Q149,327.5 151.5,329.5 L152.5,334 L153,340 L152,346 L153.2,352 L153.2,377 Q152,382.5 149,382.5 Q146,382.5 145,377 L145,352 L146,346 L145.3,340 L146,334 Z" fill="none" stroke="#000" stroke-width="1.22"/>
<path d="M145.5,334.0 L153.0,334.0" fill="none" stroke="#000" stroke-width="0.98"/>
<path d="M145.5,340.0 L153.0,340.0" fill="none" stroke="#000" stroke-width="0.98"/>
<path d="M145.5,346.0 L153.0,346.0" fill="none" stroke="#000" stroke-width="0.98"/>
<path d="M145.5,352.0 L153.0,352.0" fill="none" stroke="#000" stroke-width="0.98"/>
<path d="M147.0,353.0 L147.0,364.0" fill="none" stroke="#000" stroke-width="0.85"/>
<path d="M151.0,353.0 L151.0,364.0" fill="none" stroke="#000" stroke-width="0.85"/>
<path d="M145.0,357.0 L153.2,357.0" fill="none" stroke="#000" stroke-width="1.34"/>
<path d="M145.0,359.8 L153.2,359.8" fill="none" stroke="#000" stroke-width="1.34"/>
<path d="M145.0,362.6 L153.2,362.6" fill="none" stroke="#000" stroke-width="1.34"/>
<path d="M145.0,365.4 L153.2,365.4" fill="none" stroke="#000" stroke-width="1.34"/>
<path d="M145.0,368.2 L153.2,368.2" fill="none" stroke="#000" stroke-width="1.34"/>
<path d="M145.0,371.0 L153.2,371.0" fill="none" stroke="#000" stroke-width="1.34"/>
<path d="M145.0,373.8 L153.2,373.8" fill="none" stroke="#000" stroke-width="1.34"/>
<path d="M145.0,376.6 L153.2,376.6" fill="none" stroke="#000" stroke-width="1.34"/>
<path d="M147.5,342 l3,0 l0,3 l-3,0 z M147.5,359 l3.5,0 l0,4 l-3.5,0 z" fill="none" stroke="#000" stroke-width="1.10"/>
<path d="M110.5,330.5 l3.5,-2 l5,0.5 l2.5,3 l-2.5,1.5 l0,3 l-3.5,1.8 l-3.5,-1.8 l0,-3.5 z" fill="none" stroke="#000" stroke-width="1.34" stroke-dasharray="4 1"/>
<ellipse cx="148.5" cy="396.5" rx="5" ry="3.4" fill="none" stroke="#000" stroke-width="1.22" transform="rotate(-5 148.5 396.5)"/>
<path d="M144,394.5 q4,-2.5 9,0 M143.5,398 l-1,-2.5 M153.5,398 l1.5,-2" fill="none" stroke="#000" stroke-width="1.10"/>
<path d="M342.5,341 q1,-2.5 4,-2 q2.5,1 2,4 q-1.5,2.5 -4,2 q-2.5,-1 -2,-4 z" fill="none" stroke="#000" stroke-width="1.22"/>
<path d="M344,343.5 l3,-2" fill="none" stroke="#000" stroke-width="1.10"/>
<path d="M363,343 L363,370 L365,372 L369,371 L369,345" fill="none" stroke="#000" stroke-width="1.46"/>
<path d="M371,348 l0,8 M373.5,353 l0,5 M377,349 l2,5 M374,364 l0,5 M378,361 l1,7 M381.5,348 l0,7" fill="none" stroke="#000" stroke-width="1.46"/>
<path d="M366,346 L366,369" fill="none" stroke="#000" stroke-width="1.10"/>
<path d="M360.5,348 l3,-1.5 M359,353 l4,-0.5" fill="none" stroke="#000" stroke-width="1.95"/>
<path d="M363.5,343 L364,339.5 L366,339 L366.5,344 M368,343.5 L368.5,339.5 L370.5,340 L370.5,343" fill="none" stroke="#000" stroke-width="1.22"/>
<path d="M369,344 Q373,340 378,341.5 L380.5,344 L383,346.5 L383.5,352 L381,355 L381,360" fill="none" stroke="#000" stroke-width="1.22"/>
<path d="M371.5,346 q3,-2.5 6,-1 M372,350 l3,-1.5 l1,3 M377.5,347 l3,2 l-1,4" fill="none" stroke="#000" stroke-width="1.34"/>
<path d="M370,357 l4,-2 M371,361 Q374,357 378,359.5 Q380,362 379,367.5 L376.5,369 L376,363 L373.5,362 L372.5,368 L370,370" fill="none" stroke="#000" stroke-width="1.34"/>
<path d="M380,361 l3.5,1 l0.5,5 l-3,2 M382,357 l2,0.5" fill="none" stroke="#000" stroke-width="1.22" stroke-dasharray="3 1"/>
<path d="M361,372 l-1.5,3 l1,3.5 l3.5,0.5 l1,-2 l-0.5,-4" fill="none" stroke="#000" stroke-width="1.22"/>
<path d="M361.5,374 l2.5,3" fill="none" stroke="#000" stroke-width="1.46"/>
<path d="M357,361 l1,1.5 M356,364 l1.5,1" fill="none" stroke="#000" stroke-width="0.98"/>
<ellipse cx="363" cy="387.5" rx="5.8" ry="4" fill="none" stroke="#000" stroke-width="1.59" transform="rotate(8 363 387.5)"/>
<path d="M359,390.5 q4,2 8,0" fill="none" stroke="#000" stroke-width="1.59"/>
<path d="M358.5,385.5 q4.5,-3 9.5,0.5 M360,389 q3,-2 6.5,0 M366,390 l3,-1.5" fill="none" stroke="#000" stroke-width="1.10"/>
<ellipse cx="363.3" cy="402" rx="4.8" ry="3.6" fill="none" stroke="#000" stroke-width="1.22"/>
<path d="M359.5,403 q3.5,-2.5 7.5,0" fill="none" stroke="#000" stroke-width="0.98"/>
<path d="M360.3,405.5 L360.8,418.8 Q362,424 365.8,426.4 L376,433.5 L360.8,445.8 L337,456.8 Q327,460.5 323.5,464.5 Q321.5,468 324,471 L335.4,480.5" fill="none" stroke="#000" stroke-width="1.22"/>
<path d="M366.7,405.5 L367.5,418 Q369,423.5 374.3,426.4 L381.9,430.6 Q384,433 381.9,435.5 L374.3,442.5 Q368,448 360.8,451.8 L337,462.8 Q331,464.8 330.5,466 Q330.5,467.5 332,468.5 L342.1,474.6" fill="none" stroke="#000" stroke-width="1.22"/>
<path d="M335.4,480.5 Q341,481 342.1,474.6 M337.5,478.5 L340,476" fill="none" stroke="#000" stroke-width="1.22"/>
<path d="M342.5,476.5 L350.0,482.0" fill="none" stroke="#000" stroke-width="0.95" stroke-dasharray="3 2"/>
<path d="M350,482 l3,-2 l4,1 l2,3 l-1,4 l-4,2 l-4,-2 z M350.5,481 l8,8 M357,480.5 l-6,9 M354,479.5 l0.5,10.5 M349.5,485.5 l9.5,-1" fill="none" stroke="#000" stroke-width="1.10"/>
<path d="M355.2,495 L355.2,502.5 M355.2,495.3 L373.5,488.8 M373.5,481.3 L373.5,491 M376.2,482.5 L376.2,492" fill="none" stroke="#000" stroke-width="1.22"/>
<path d="M373.5,481.3 L376.2,482.5" fill="none" stroke="#000" stroke-width="1.10"/>
<path d="M356.8,497.5 L372,491.5 M370.8,493 L380.5,507.7 L397.7,497 M372.5,490.5 L382,504.5" fill="none" stroke="#000" stroke-width="1.10"/>
<path d="M383.2,494.2 L385.4,491.5 L388,491.5 L391.3,495.8 L397.7,496.4 L403.7,497.4 L403.7,502.3 L400,504.4" fill="none" stroke="#000" stroke-width="1.22"/>
<path d="M380,510.4 L403.7,497.8" fill="none" stroke="#000" stroke-width="1.10"/>
<path d="M400.0,504.4 L379.0,519.0" fill="none" stroke="#000" stroke-width="1.22" stroke-dasharray="4 1.5"/>
<path d="M356.8,501.2 L374,513 L375.1,519.5 L358,509.8 Z" fill="none" stroke="#000" stroke-width="1.22"/>
<path d="M358,503.5 L373,514 M358,506 L374,516.5 M358,508 L368,514.5" fill="none" stroke="#000" stroke-width="1.10"/>
<path d="M374,513 L380,510.4 M375.1,519.5 L379,519 M377.8,494.8 l0.3,4 M376.5,485 l0,3" fill="none" stroke="#000" stroke-width="1.10"/>
<path d="M385.5,495.5 l2,-1 l1,2" fill="none" stroke="#000" stroke-width="0.98"/>
<path d="M332,518.5 Q334.5,516.5 337.5,518.5 L345,525 Q347.5,528.5 345,531 Q342,532 339,530 L332.5,524 Q330,521 332,518.5 Z" fill="none" stroke="#000" stroke-width="1.22"/>
<path d="M341,521.5 q3,-1 4.5,2 M343.5,530.5 q2.5,-3 1,-6.5" fill="none" stroke="#000" stroke-width="1.10"/>
<path d="M483.0,420.8 L509.2,407.7" fill="none" stroke="#000" stroke-width="1.22" stroke-dasharray="7 1.5"/>
<path d="M508,410 L508.5,407 L510.5,407.5 L510,410.5" fill="none" stroke="#000" stroke-width="1.10"/>
<path d="M483,419 L483.5,421.5 L501,433.5 Q505,434.5 507.3,432.7 Q511,428 512.2,422 Q513,415 510.4,411" fill="none" stroke="#000" stroke-width="1.22" stroke-dasharray="6 1.5"/>
<path d="M486.5,420.4 L492.7,424.2 L497.3,422.3" fill="none" stroke="#000" stroke-width="1.10"/>
<path d="M484.5,423.5 L500,434" fill="none" stroke="#000" stroke-width="0.98" stroke-dasharray="6 1.5"/>
<path d="M488,417.5 l4,-2 l2,1.5" fill="none" stroke="#000" stroke-width="0.98"/>
<path d="M494.2,415.8 L510.4,425.0" fill="none" stroke="#000" stroke-width="1.22" stroke-dasharray="5 1.5"/>
<path d="M495.5,414.6 L509.0,422.5" fill="none" stroke="#000" stroke-width="0.85" stroke-dasharray="3 2"/>
<path d="M504.2,419.6 L511.2,414.2" fill="none" stroke="#000" stroke-width="1.22" stroke-dasharray="4 1.5"/>
<path d="M495.8,427.3 L502,430.4 L507.3,430" fill="none" stroke="#000" stroke-width="1.10" stroke-dasharray="5 1.5"/>
<path d="M397.5,530 l4,-3 l5,0.5 l2.5,3 l-3,4 l-5.5,1 z M398,530.5 l10,3 M401.5,527.5 l4,7.5 M406,527.5 l-5.5,7.5" fill="none" stroke="#000" stroke-width="1.10"/>
<path d="M402.0,537.0 L402.0,542.0" fill="none" stroke="#000" stroke-width="1.59"/>
<ellipse cx="401.5" cy="546.5" rx="4.6" ry="2.6" fill="none" stroke="#000" stroke-width="1.22"/>
<path d="M395.3,545 Q394.8,560 401,572.5 Q406,581 416,582.5" fill="none" stroke="#000" stroke-width="1.22"/>
<path d="M408,547 Q408,559 414,566 Q418,570.5 422,571.2" fill="none" stroke="#000" stroke-width="1.22"/>
<path d="M395.3,545 Q396,541.5 401.5,541.5 Q407.5,541.8 408,547" fill="none" stroke="#000" stroke-width="1.22"/>
<path d="M418.5,571 q-2.5,5.5 0,12 M422,571 q-2,6 0.5,12 M418.5,571 l3.5,0 M418.5,583 l4,0 M424,575 l0,5" fill="none" stroke="#000" stroke-width="1.22"/>
<path d="M424.5,577.0 L431.5,577.0" fill="none" stroke="#000" stroke-width="1.10"/>
<path d="M432.5,573 l3,-1 l1.5,5 l-1.5,5.5 l-3,0.5 M432.5,573 q-2,5 0,10 M435.5,572 l-3,11 M432.5,573 l3,10.5 M437,574 l2.5,0.5 l0.5,6 l-2.5,1" fill="none" stroke="#000" stroke-width="1.10"/>
<path d="M429,590 l3,-1.5 l3,1.5 l0.5,4 l-3,2.5 l-3.5,-1.5 z M429,590 l6,5.5 M434,589 l-4.5,7" fill="none" stroke="#000" stroke-width="1.10"/>
<ellipse cx="468.5" cy="582" rx="11.5" ry="12.5" fill="none" stroke="#000" stroke-width="1.34" transform="rotate(15 468.5 582)" stroke-dasharray="1.5 2"/>
<ellipse cx="468" cy="584" rx="6.5" ry="8" fill="none" stroke="#000" stroke-width="1.22" transform="rotate(15 468 584)" stroke-dasharray="1.5 2.5"/>
<path d="M452,571 Q449.5,588 452.5,604 M457,577 Q455,588 457,599 M461,574 l-1,10 M463,596 l-1,8" fill="none" stroke="#000" stroke-width="1.34" stroke-dasharray="1.5 2.2"/>
<path d="M448,604.5 L457,607.5 L466,603 M445,580 l6,-1 M444,594 l7,-1 M456,566 l5,-1 M470,600 l6,-4" fill="none" stroke="#000" stroke-width="1.34" stroke-dasharray="1.5 2"/>
<path d="M458,564 l2.5,0 l0,4" fill="none" stroke="#000" stroke-width="1.22" stroke-dasharray="1 1"/>
<path d="M383.3,272 L388.2,270 L398.5,277.5 L397.8,281.7 L393.7,282.4 L383.3,275.5 Z M383.3,272 L393.7,279 L398.5,277.5 M393.7,279 L393.7,282.4" fill="none" stroke="#000" stroke-width="1.22"/>
<path d="M388.8,270 Q397,265 407.5,267.2 L413,271.5 M391,271.5 Q399,268 408,270.5 L414,273 M394,274 Q404,271.5 416,274.5 M398.5,277.5 L420,277 M398,280 L421,277.8" fill="none" stroke="#000" stroke-width="1.10"/>
<path d="M410.3,266.5 Q413,259 420,255" fill="none" stroke="#000" stroke-width="1.10"/>
<ellipse cx="421.5" cy="254.3" rx="1.4" ry="1.1" fill="none" stroke="#000" stroke-width="0.98"/>
<path d="M415.5,269.5 L428,259.8" fill="none" stroke="#000" stroke-width="1.10"/>
<path d="M427.5,258.5 l2.5,-0.5 l0,2.5 M429,258 l1.5,2" fill="none" stroke="#000" stroke-width="0.98"/>
<path d="M412,270 L424,277.5 L420.5,278 Z" fill="#000" stroke="#000" stroke-width="0.98"/>
<path d="M421.3,277.7 L493.3,318.7" fill="none" stroke="#000" stroke-width="1.10"/>
<path d="M422.7,275.3 L494.7,316.3" fill="none" stroke="#000" stroke-width="1.10"/>
<path d="M424.3,276.2 L422.9,278.6" fill="none" stroke="#000" stroke-width="1.22"/>
<path d="M427.6,278.1 L426.2,280.5" fill="none" stroke="#000" stroke-width="1.22"/>
<path d="M430.9,279.9 L429.5,282.4" fill="none" stroke="#000" stroke-width="1.22"/>
<path d="M434.1,281.8 L432.8,284.2" fill="none" stroke="#000" stroke-width="1.22"/>
<path d="M437.4,283.7 L436.0,286.1" fill="none" stroke="#000" stroke-width="1.22"/>
<path d="M440.7,285.5 L439.3,288.0" fill="none" stroke="#000" stroke-width="1.22"/>
<path d="M444.0,287.4 L442.6,289.8" fill="none" stroke="#000" stroke-width="1.22"/>
<path d="M447.2,289.3 L445.9,291.7" fill="none" stroke="#000" stroke-width="1.22"/>
<path d="M450.5,291.1 L449.1,293.6" fill="none" stroke="#000" stroke-width="1.22"/>
<path d="M453.8,293.0 L452.4,295.4" fill="none" stroke="#000" stroke-width="1.22"/>
<path d="M457.1,294.9 L455.7,297.3" fill="none" stroke="#000" stroke-width="1.22"/>
<path d="M460.3,296.7 L458.9,299.1" fill="none" stroke="#000" stroke-width="1.22"/>
<path d="M463.6,298.6 L462.2,301.0" fill="none" stroke="#000" stroke-width="1.22"/>
<path d="M466.9,300.4 L465.5,302.9" fill="none" stroke="#000" stroke-width="1.22"/>
<path d="M470.1,302.3 L468.8,304.7" fill="none" stroke="#000" stroke-width="1.22"/>
<path d="M473.4,304.2 L472.0,306.6" fill="none" stroke="#000" stroke-width="1.22"/>
<path d="M476.7,306.0 L475.3,308.5" fill="none" stroke="#000" stroke-width="1.22"/>
<path d="M480.0,307.9 L478.6,310.3" fill="none" stroke="#000" stroke-width="1.22"/>
<path d="M483.2,309.8 L481.9,312.2" fill="none" stroke="#000" stroke-width="1.22"/>
<path d="M486.5,311.6 L485.1,314.1" fill="none" stroke="#000" stroke-width="1.22"/>
<path d="M489.8,313.5 L488.4,315.9" fill="none" stroke="#000" stroke-width="1.22"/>
<path d="M493.1,315.4 L491.7,317.8" fill="none" stroke="#000" stroke-width="1.22"/>
<path d="M424.0,277.5 L492.0,316.5" fill="none" stroke="#000" stroke-width="1.46" stroke-dasharray="5 2 2 3 7 2"/>
<path d="M432.0,276.5 L438.0,275.0" fill="none" stroke="#000" stroke-width="1.10"/>
<path d="M440,279.5 Q443,272 452,270 L455,269 Q456.5,264 452,261" fill="none" stroke="#000" stroke-width="1.10"/>
<path d="M443,281.5 Q446,275 455,272.5 L458.5,271 Q460,264.5 455,260.5" fill="none" stroke="#000" stroke-width="1.10"/>
<path d="M451,261 l-1,-4 l3,1.5 l1,3.5 M455,256 l2,-1 l1,2" fill="none" stroke="#000" stroke-width="1.10"/>
<path d="M447,286 Q448.5,279 458,275.5 Q466,273 468,268 Q469,262 463,257.5" fill="none" stroke="#000" stroke-width="1.10"/>
<path d="M450.5,288 Q452,282 461,278.5 Q470,275.5 471.5,269 Q472,261.5 466,257" fill="none" stroke="#000" stroke-width="1.10"/>
<path d="M461,256 l2,-2 l3,0.5 l0.5,2.5" fill="none" stroke="#000" stroke-width="1.10"/>
<ellipse cx="463.5" cy="254.5" rx="1.5" ry="1.2" fill="none" stroke="#000" stroke-width="0.98"/>
<path d="M466.5,285 L478,294 L472,298.5 L455,294" fill="none" stroke="#000" stroke-width="1.10"/>
<path d="M493,317 L492,307 Q492,304 495,304 L507.5,304 Q512,303 513,298 Q513,292.5 509,290 L504.5,288" fill="none" stroke="#000" stroke-width="1.10"/>
<path d="M495.5,316 L495,309 Q495,306.8 497.5,306.8 L508.5,306.8 Q515,305.5 516,298 Q515.5,291 510.5,288.5" fill="none" stroke="#000" stroke-width="1.10"/>
<path d="M502,288 l1,-2.5 l3.5,0 l1,2.5 l-2.5,1.5 z" fill="none" stroke="#000" stroke-width="1.10"/>
<path d="M493.5,305.5 L508.0,305.5" fill="none" stroke="#000" stroke-width="1.46"/>
<path d="M466,318.5 l3,-1.5 l1.5,8 l-3,1 z M470,321 L488,328.5 L492,326 L492.5,318 M472,324.5 L487,326.5 M471,319.5 l6,3" fill="none" stroke="#000" stroke-width="1.22"/>
<path d="M495.5,318.5 L508.5,349.0" fill="none" stroke="#000" stroke-width="1.10"/>
<path d="M495.5,318.5 L513.0,346.2" fill="none" stroke="#000" stroke-width="1.10"/>
<path d="M495.5,318.5 L518.0,343.2" fill="none" stroke="#000" stroke-width="1.10"/>
<path d="M495.5,318.5 L523.0,340.2" fill="none" stroke="#000" stroke-width="1.10"/>
<path d="M495.5,318.5 L528.0,337.2" fill="none" stroke="#000" stroke-width="1.10"/>
<path d="M495.5,318.5 L533.0,334.2" fill="none" stroke="#000" stroke-width="1.10"/>
<path d="M495.0,317.5 L536.5,332.5" fill="none" stroke="#000" stroke-width="1.10"/>
<path d="M508,351.2 L537,333 L539.5,339 L510.5,358.2 L504.5,352.5 L508,351.2 L510.5,358.2" fill="none" stroke="#000" stroke-width="1.22"/>
<path d="M504.5,352.5 L478.0,340.5" fill="none" stroke="#000" stroke-width="1.10"/>
<path d="M508.5,348.5 L499.0,344.0" fill="none" stroke="#000" stroke-width="1.10"/>
<ellipse cx="397.2" cy="317.7" rx="1.4" ry="1.1" fill="none" stroke="#000" stroke-width="0.98"/>
<ellipse cx="388.2" cy="322.2" rx="1.4" ry="1.1" fill="none" stroke="#000" stroke-width="0.98"/>
<ellipse cx="380.5" cy="327.7" rx="1.4" ry="1.1" fill="none" stroke="#000" stroke-width="0.98"/>
<path d="M398.5,318.3 Q404,323.5 410,321.5 Q420,316.5 432,316.5 Q441,317 447,322" fill="none" stroke="#000" stroke-width="1.22"/>
<path d="M389.5,322.8 L401.3,329.8 Q405,332.5 409,331 L430.4,320.8 L441.5,320.1" fill="none" stroke="#000" stroke-width="1.22"/>
<path d="M382,328.3 L393,335.5 Q400,338 408,332.5" fill="none" stroke="#000" stroke-width="1.22"/>
<path d="M432,316.5 L445,319.5 L449,324 L443,321.5 Z" fill="#000" stroke="#000" stroke-width="0.98"/>
<path d="M446.4,324.1 L475.4,340.6" fill="none" stroke="#000" stroke-width="1.10"/>
<path d="M447.6,321.9 L476.6,338.4" fill="none" stroke="#000" stroke-width="1.10"/>
<path d="M449.5,322.9 L448.2,325.2" fill="none" stroke="#000" stroke-width="1.22"/>
<path d="M453.1,325.0 L451.8,327.2" fill="none" stroke="#000" stroke-width="1.22"/>
<path d="M456.7,327.0 L455.4,329.3" fill="none" stroke="#000" stroke-width="1.22"/>
<path d="M460.3,329.1 L459.0,331.3" fill="none" stroke="#000" stroke-width="1.22"/>
<path d="M464.0,331.2 L462.7,333.4" fill="none" stroke="#000" stroke-width="1.22"/>
<path d="M467.6,333.2 L466.3,335.5" fill="none" stroke="#000" stroke-width="1.22"/>
<path d="M471.2,335.3 L469.9,337.5" fill="none" stroke="#000" stroke-width="1.22"/>
<path d="M474.8,337.3 L473.5,339.6" fill="none" stroke="#000" stroke-width="1.22"/>
<path d="M447.0,323.0 L476.0,339.5" fill="none" stroke="#000" stroke-width="1.46" stroke-dasharray="5 2 2 3"/>
<path d="M476,339 L500,346.5 L508,351 M478,342 L498,349" fill="none" stroke="#000" stroke-width="1.10"/>
<path d="M481,341 L505,345 M488,343 L497,338 L510,343" fill="none" stroke="#000" stroke-width="0.98"/>
<path d="M423.5,333.2 L436,325.6 L447,327 M423.5,333.2 L436,343 L447,336 M423.5,337.4 L435,345.5 L440,343 M423.5,333.2 L423.5,337.4" fill="none" stroke="#000" stroke-width="1.22"/>
<path d="M430,330 q2,-3 6,-2 q1,3 -2,5 q-3,0 -4,-3 M439,330 Q441,325 447,323 M442,338 Q448,334 448.5,326 M438,336 q3,-1 5,-5" fill="none" stroke="#000" stroke-width="1.10"/>
<path d="M437.3,348.5 L447,344.3 L454,347 L453.3,352.6 L447,358.2 L437.3,353.3 M437.3,348.5 L447,353 L454,347 M447,353 L447,358.2" fill="none" stroke="#000" stroke-width="1.22"/>
<path d="M441,348.5 l4,-2 l3,1.5 l-4,2 z" fill="none" stroke="#000" stroke-width="0.98"/>
<path d="M450.5,347 Q452,340 458,336.7 Q462,335 466,336" fill="none" stroke="#000" stroke-width="1.10"/>
<path d="M458,337 Q461,343 461,350 Q463,358 468,361 Q466,364 461,362.5 M459.5,362 l-2.5,0.5" fill="none" stroke="#000" stroke-width="1.10"/>
</svg>
</body></html>
